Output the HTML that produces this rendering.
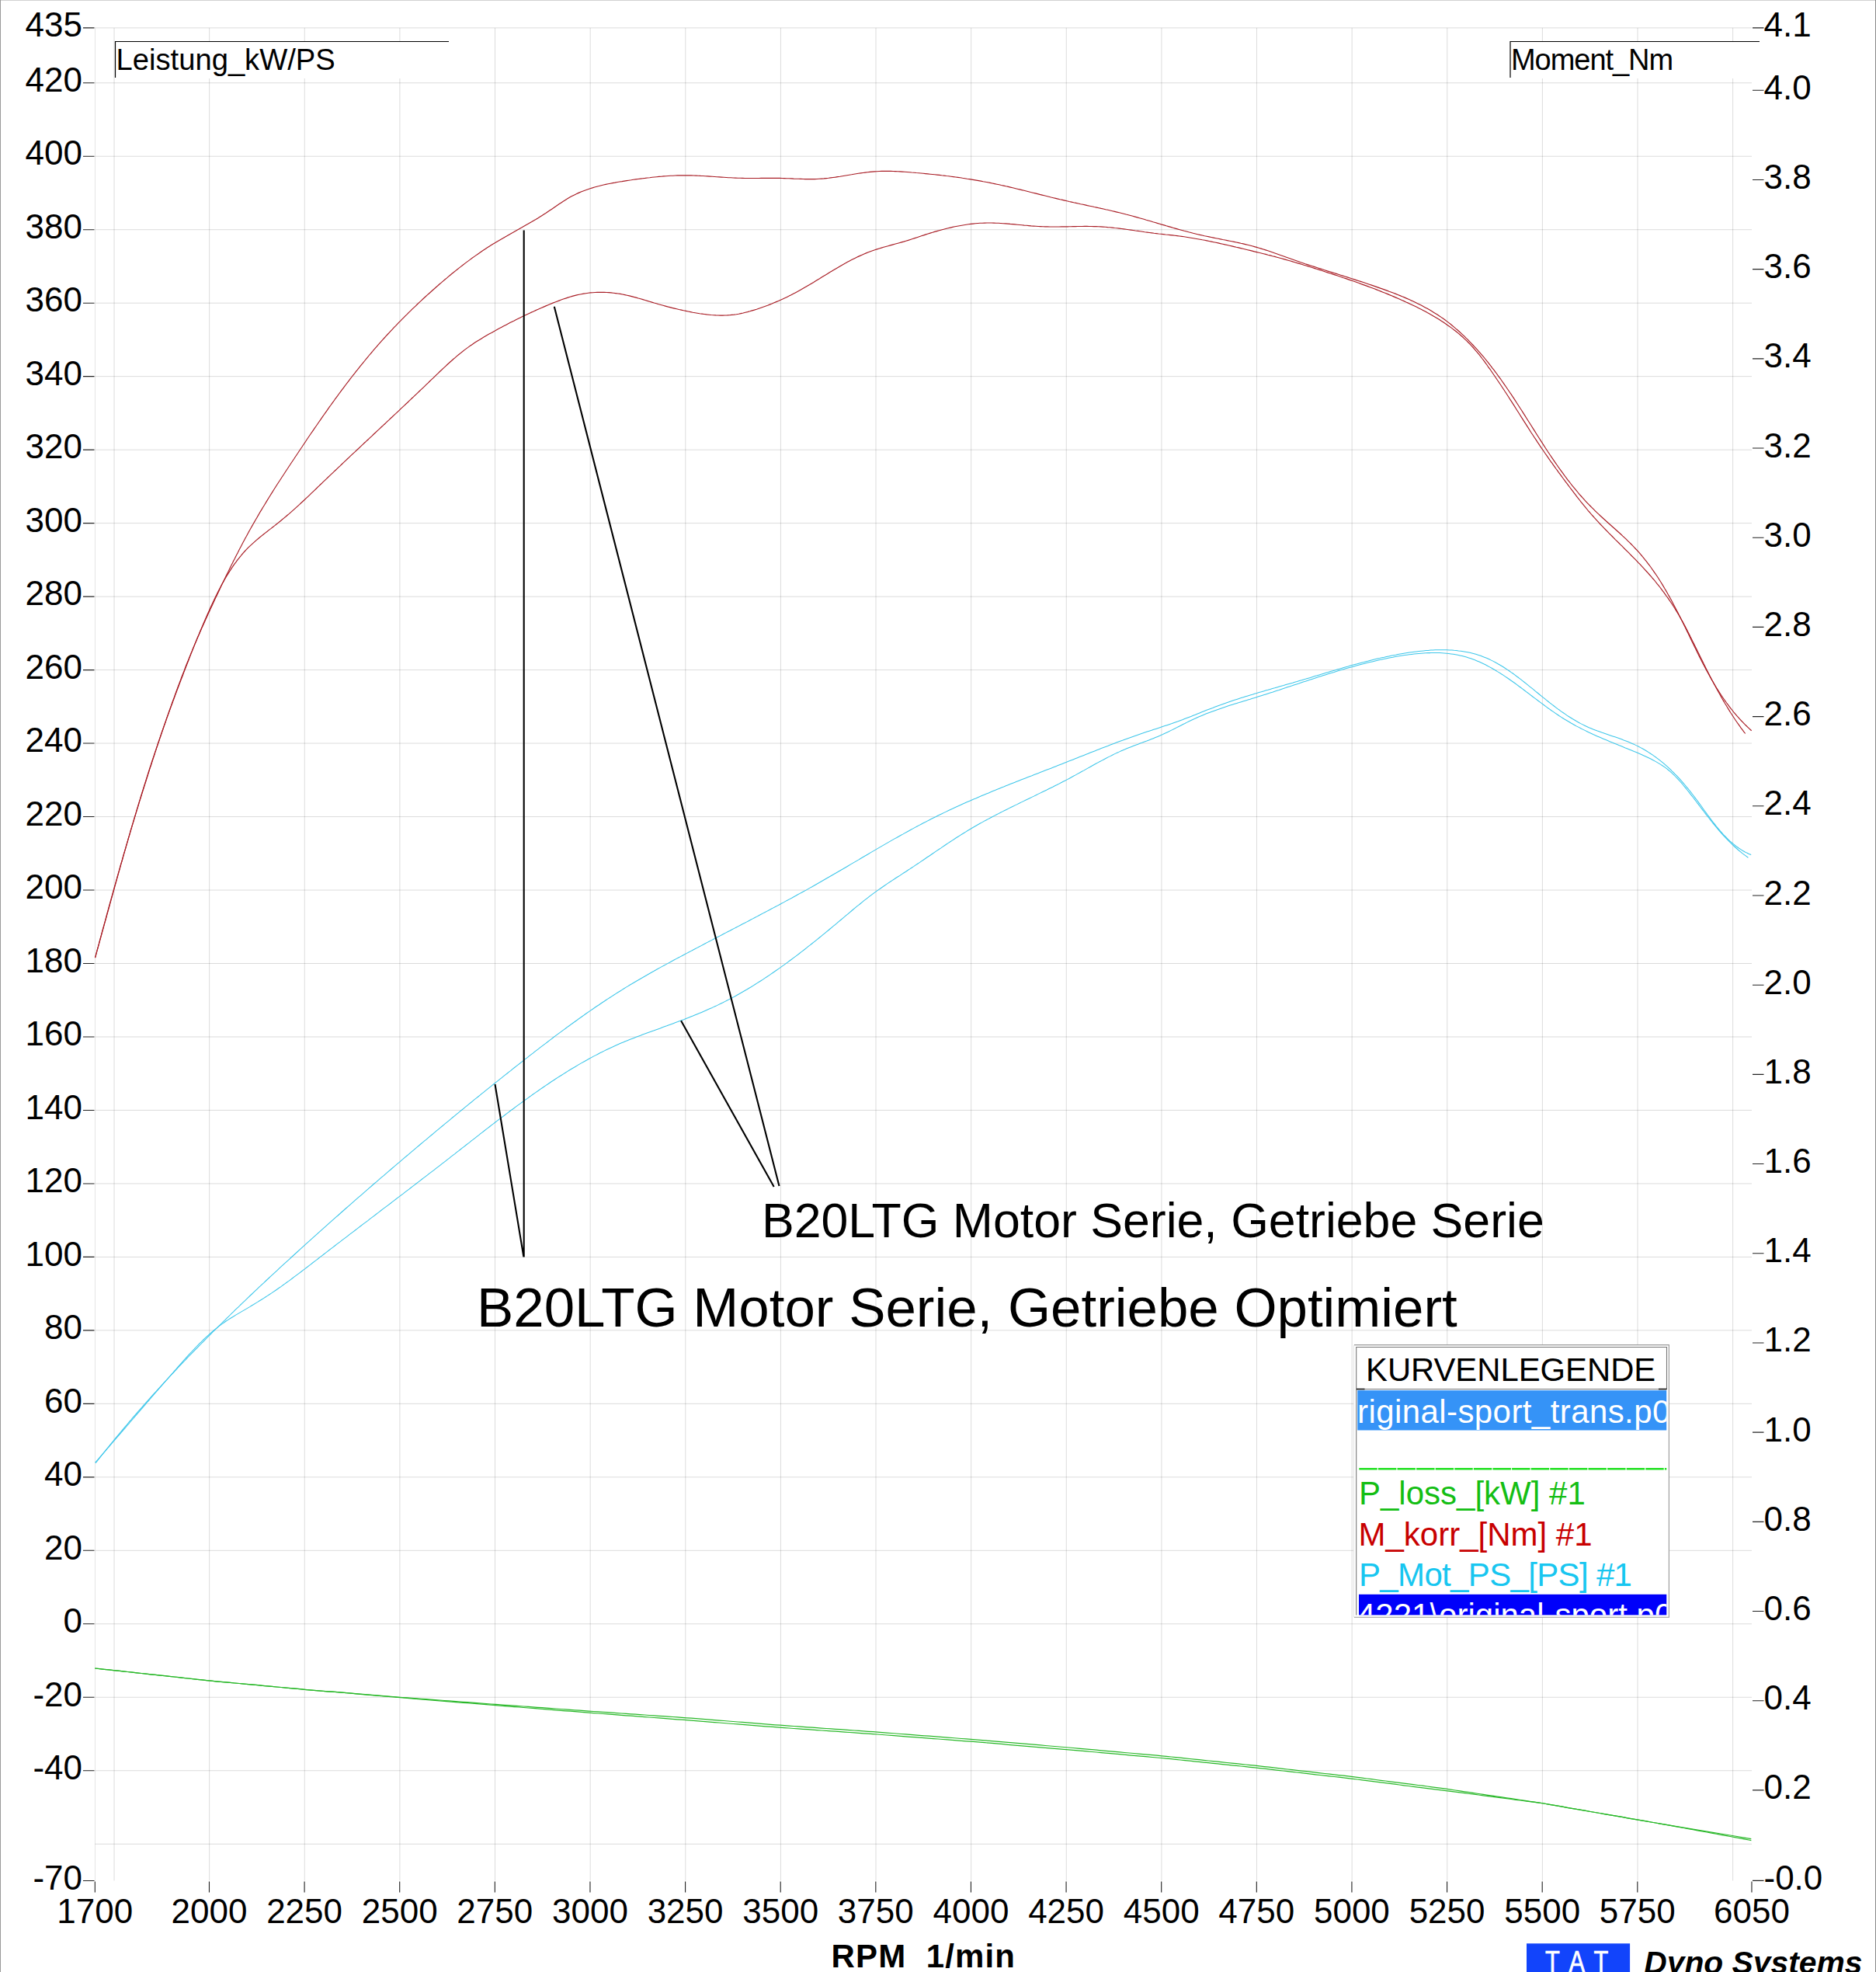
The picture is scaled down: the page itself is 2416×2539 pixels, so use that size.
<!DOCTYPE html>
<html><head><meta charset="utf-8"><title>Dyno</title>
<style>html,body{margin:0;padding:0;background:#fff;width:2416px;height:2539px;overflow:hidden}</style>
</head><body>
<svg xmlns="http://www.w3.org/2000/svg" width="2416" height="2539" viewBox="0 0 2416 2539" style="display:block">
<rect x="0" y="0" width="2416" height="2539" fill="#fff"/>
<line x1="0" y1="0.5" x2="2416" y2="0.5" stroke="#d2d2d2" stroke-width="1"/>
<line x1="0.5" y1="0" x2="0.5" y2="2539" stroke="#999" stroke-width="1"/>
<line x1="2415.5" y1="0" x2="2415.5" y2="2539" stroke="#888" stroke-width="1"/>
<path d="M147.05 35.90V2421.4M269.67 35.90V2421.4M392.30 35.90V2421.4M514.92 35.90V2421.4M637.54 35.90V2421.4M760.16 35.90V2421.4M882.79 35.90V2421.4M1005.41 35.90V2421.4M1128.03 35.90V2421.4M1250.65 35.90V2421.4M1373.27 35.90V2421.4M1495.90 35.90V2421.4M1618.52 35.90V2421.4M1741.14 35.90V2421.4M1863.76 35.90V2421.4M1986.39 35.90V2421.4M2109.01 35.90V2421.4M2231.63 35.90V2421.4M122.3 106.76H2256.0M122.3 201.24H2256.0M122.3 295.72H2256.0M122.3 390.20H2256.0M122.3 484.67H2256.0M122.3 579.15H2256.0M122.3 673.63H2256.0M122.3 768.11H2256.0M122.3 862.59H2256.0M122.3 957.06H2256.0M122.3 1051.54H2256.0M122.3 1146.02H2256.0M122.3 1240.50H2256.0M122.3 1334.98H2256.0M122.3 1429.45H2256.0M122.3 1523.93H2256.0M122.3 1618.41H2256.0M122.3 1712.89H2256.0M122.3 1807.37H2256.0M122.3 1901.84H2256.0M122.3 1996.32H2256.0M122.3 2090.80H2256.0M122.3 2185.28H2256.0M122.3 2279.76H2256.0M122.3 2374.23H2256.0M122.3 35.90H2256.0" stroke="#000" stroke-opacity="0.14" stroke-width="1" fill="none"/>
<path d="M122.5 35.5V2421.4" stroke="#000" stroke-opacity="0.1" stroke-width="1"/>
<path d="M107 35.90H121.5M107 106.76H121.5M107 201.24H121.5M107 295.72H121.5M107 390.20H121.5M107 484.67H121.5M107 579.15H121.5M107 673.63H121.5M107 768.11H121.5M107 862.59H121.5M107 957.06H121.5M107 1051.54H121.5M107 1146.02H121.5M107 1240.50H121.5M107 1334.98H121.5M107 1429.45H121.5M107 1523.93H121.5M107 1618.41H121.5M107 1712.89H121.5M107 1807.37H121.5M107 1901.84H121.5M107 1996.32H121.5M107 2090.80H121.5M107 2185.28H121.5M107 2279.76H121.5M107 2421.47H121.5M2257 35.90H2271.5M2257 116.26H2271.5M2257 231.45H2271.5M2257 346.64H2271.5M2257 461.84H2271.5M2257 577.03H2271.5M2257 692.22H2271.5M2257 807.41H2271.5M2257 922.60H2271.5M2257 1037.80H2271.5M2257 1152.99H2271.5M2257 1268.18H2271.5M2257 1383.37H2271.5M2257 1498.56H2271.5M2257 1613.76H2271.5M2257 1728.95H2271.5M2257 1844.14H2271.5M2257 1959.33H2271.5M2257 2074.52H2271.5M2257 2189.72H2271.5M2257 2304.91H2271.5M2257 2421.40H2271.5M122.33 2422.5V2436.5M269.47 2422.5V2436.5M392.10 2422.5V2436.5M514.72 2422.5V2436.5M637.34 2422.5V2436.5M759.96 2422.5V2436.5M882.59 2422.5V2436.5M1005.21 2422.5V2436.5M1127.83 2422.5V2436.5M1250.45 2422.5V2436.5M1373.07 2422.5V2436.5M1495.70 2422.5V2436.5M1618.32 2422.5V2436.5M1740.94 2422.5V2436.5M1863.56 2422.5V2436.5M1986.19 2422.5V2436.5M2108.81 2422.5V2436.5M2255.96 2422.5V2436.5" stroke="#222" stroke-width="1.1" fill="none"/>
<g font-family="Liberation Sans, sans-serif" font-size="44" fill="#000"><text x="106" y="47.1" text-anchor="end">435</text><text x="106" y="118.0" text-anchor="end">420</text><text x="106" y="212.4" text-anchor="end">400</text><text x="106" y="306.9" text-anchor="end">380</text><text x="106" y="401.4" text-anchor="end">360</text><text x="106" y="495.9" text-anchor="end">340</text><text x="106" y="590.4" text-anchor="end">320</text><text x="106" y="684.8" text-anchor="end">300</text><text x="106" y="779.3" text-anchor="end">280</text><text x="106" y="873.8" text-anchor="end">260</text><text x="106" y="968.3" text-anchor="end">240</text><text x="106" y="1062.7" text-anchor="end">220</text><text x="106" y="1157.2" text-anchor="end">200</text><text x="106" y="1251.7" text-anchor="end">180</text><text x="106" y="1346.2" text-anchor="end">160</text><text x="106" y="1440.7" text-anchor="end">140</text><text x="106" y="1535.1" text-anchor="end">120</text><text x="106" y="1629.6" text-anchor="end">100</text><text x="106" y="1724.1" text-anchor="end">80</text><text x="106" y="1818.6" text-anchor="end">60</text><text x="106" y="1913.0" text-anchor="end">40</text><text x="106" y="2007.5" text-anchor="end">20</text><text x="106" y="2102.0" text-anchor="end">0</text><text x="106" y="2196.5" text-anchor="end">-20</text><text x="106" y="2291.0" text-anchor="end">-40</text><text x="106" y="2432.7" text-anchor="end">-70</text><text x="2271.5" y="47.4">4.1</text><text x="2271.5" y="127.8">4.0</text><text x="2271.5" y="243.0">3.8</text><text x="2271.5" y="358.1">3.6</text><text x="2271.5" y="473.3">3.4</text><text x="2271.5" y="588.5">3.2</text><text x="2271.5" y="703.7">3.0</text><text x="2271.5" y="818.9">2.8</text><text x="2271.5" y="934.1">2.6</text><text x="2271.5" y="1049.3">2.4</text><text x="2271.5" y="1164.5">2.2</text><text x="2271.5" y="1279.7">2.0</text><text x="2271.5" y="1394.9">1.8</text><text x="2271.5" y="1510.1">1.6</text><text x="2271.5" y="1625.3">1.4</text><text x="2271.5" y="1740.4">1.2</text><text x="2271.5" y="1855.6">1.0</text><text x="2271.5" y="1970.8">0.8</text><text x="2271.5" y="2086.0">0.6</text><text x="2271.5" y="2201.2">0.4</text><text x="2271.5" y="2316.4">0.2</text><text x="2271.5" y="2432.9">-0.0</text><text x="122.3" y="2476.3" text-anchor="middle">1700</text><text x="269.5" y="2476.3" text-anchor="middle">2000</text><text x="392.1" y="2476.3" text-anchor="middle">2250</text><text x="514.7" y="2476.3" text-anchor="middle">2500</text><text x="637.3" y="2476.3" text-anchor="middle">2750</text><text x="760.0" y="2476.3" text-anchor="middle">3000</text><text x="882.6" y="2476.3" text-anchor="middle">3250</text><text x="1005.2" y="2476.3" text-anchor="middle">3500</text><text x="1127.8" y="2476.3" text-anchor="middle">3750</text><text x="1250.5" y="2476.3" text-anchor="middle">4000</text><text x="1373.1" y="2476.3" text-anchor="middle">4250</text><text x="1495.7" y="2476.3" text-anchor="middle">4500</text><text x="1618.3" y="2476.3" text-anchor="middle">4750</text><text x="1740.9" y="2476.3" text-anchor="middle">5000</text><text x="1863.6" y="2476.3" text-anchor="middle">5250</text><text x="1986.2" y="2476.3" text-anchor="middle">5500</text><text x="2108.8" y="2476.3" text-anchor="middle">5750</text><text x="2256.0" y="2476.3" text-anchor="middle">6050</text></g>
<rect x="148" y="53" width="430" height="48" fill="#fff"/><rect x="1944.5" y="53" width="321.5" height="48" fill="#fff"/>
<path d="M148.5 100V53.5H578" stroke="#000" stroke-width="1.2" fill="none"/>
<path d="M1945 100V53.5H2266" stroke="#000" stroke-width="1.2" fill="none"/>
<text x="149.5" y="90" font-family="Liberation Sans, sans-serif" font-size="38.2">Leistung_kW/PS</text>
<text x="1946" y="90" font-family="Liberation Sans, sans-serif" font-size="38" letter-spacing="-1.05">Moment_Nm</text>
<text x="1070.6" y="2533" font-family="Liberation Sans, sans-serif" font-weight="bold" font-size="42" letter-spacing="1.1" xml:space="preserve">RPM  1/min</text>
<rect x="1966" y="2502.3" width="133.1" height="40" fill="#1244fb"/>
<text transform="translate(1990.1 2539.4) scale(0.81 1)" font-family="Liberation Sans, sans-serif" font-size="38" fill="#fff" stroke="#fff" stroke-width="0.7" letter-spacing="17.1">TAT</text>
<text x="2117.3" y="2541" font-family="Liberation Sans, sans-serif" font-weight="bold" font-style="italic" font-size="40.8">Dyno Systems</text>
<path d="M122.2 2148.0 L128.2 2148.6 L134.2 2149.3 L140.2 2149.9 L146.2 2150.6 L152.2 2151.2 L158.2 2151.9 L164.2 2152.5 L170.2 2153.2 L176.2 2153.8 L182.2 2154.5 L188.2 2155.1 L194.2 2155.8 L200.2 2156.4 L206.2 2157.1 L212.2 2157.7 L218.2 2158.4 L224.2 2159.0 L230.2 2159.7 L236.2 2160.3 L242.2 2161.0 L248.2 2161.6 L254.2 2162.3 L260.2 2162.9 L266.2 2163.6 L272.2 2164.2 L278.2 2164.8 L284.2 2165.3 L290.2 2165.9 L296.2 2166.4 L302.2 2167.0 L308.2 2167.5 L314.2 2168.1 L320.2 2168.6 L326.2 2169.2 L332.2 2169.7 L338.2 2170.3 L344.2 2170.8 L350.2 2171.4 L356.2 2172.0 L362.2 2172.5 L368.2 2173.1 L374.2 2173.6 L380.2 2174.2 L386.2 2174.7 L392.2 2175.3 L398.2 2175.8 L404.2 2176.3 L410.2 2176.8 L416.2 2177.3 L422.2 2177.8 L428.2 2178.2 L434.2 2178.7 L440.2 2179.2 L446.2 2179.7 L452.2 2180.2 L458.2 2180.7 L464.2 2181.2 L470.2 2181.7 L476.2 2182.1 L482.2 2182.6 L488.2 2183.1 L494.2 2183.6 L500.2 2184.0 L506.2 2184.5 L512.2 2185.0 L518.2 2185.5 L524.2 2185.9 L530.2 2186.4 L536.2 2186.8 L542.2 2187.3 L548.2 2187.7 L554.2 2188.1 L560.2 2188.6 L566.2 2189.0 L572.2 2189.5 L578.2 2189.9 L584.2 2190.4 L590.2 2190.8 L596.2 2191.3 L602.2 2191.7 L608.2 2192.2 L614.2 2192.6 L620.2 2193.1 L626.2 2193.5 L632.2 2194.0 L638.2 2194.4 L644.2 2194.8 L650.2 2195.3 L656.2 2195.7 L662.2 2196.1 L668.2 2196.6 L674.2 2197.0 L680.2 2197.4 L686.2 2197.9 L692.2 2198.3 L698.2 2198.7 L704.2 2199.2 L710.2 2199.6 L716.2 2200.0 L722.2 2200.5 L728.2 2200.9 L734.2 2201.3 L740.2 2201.8 L746.2 2202.2 L752.2 2202.6 L758.2 2203.1 L764.2 2203.5 L770.2 2203.9 L776.2 2204.3 L782.2 2204.7 L788.2 2205.1 L794.2 2205.6 L800.2 2206.0 L806.2 2206.4 L812.2 2206.8 L818.2 2207.2 L824.2 2207.6 L830.2 2208.0 L836.2 2208.5 L842.2 2208.9 L848.2 2209.3 L854.2 2209.7 L860.2 2210.1 L866.2 2210.5 L872.2 2210.9 L878.2 2211.4 L884.2 2211.8 L890.2 2212.2 L896.2 2212.7 L902.2 2213.2 L908.2 2213.6 L914.2 2214.1 L920.2 2214.6 L926.2 2215.1 L932.2 2215.5 L938.2 2216.0 L944.2 2216.5 L950.2 2217.0 L956.2 2217.4 L962.2 2217.9 L968.2 2218.4 L974.2 2218.9 L980.2 2219.3 L986.2 2219.8 L992.2 2220.3 L998.2 2220.8 L1004.2 2221.2 L1010.2 2221.7 L1016.2 2222.1 L1022.2 2222.5 L1028.2 2222.9 L1034.2 2223.4 L1040.2 2223.8 L1046.2 2224.2 L1052.2 2224.6 L1058.2 2225.1 L1064.2 2225.5 L1070.2 2225.9 L1076.2 2226.3 L1082.2 2226.7 L1088.2 2227.2 L1094.2 2227.6 L1100.2 2228.0 L1106.2 2228.4 L1112.2 2228.9 L1118.2 2229.3 L1124.2 2229.7 L1130.2 2230.1 L1136.2 2230.6 L1142.2 2231.1 L1148.2 2231.5 L1154.2 2232.0 L1160.2 2232.5 L1166.2 2232.9 L1172.2 2233.4 L1178.2 2233.8 L1184.2 2234.3 L1190.2 2234.8 L1196.2 2235.2 L1202.2 2235.7 L1208.2 2236.1 L1214.2 2236.6 L1220.2 2237.1 L1226.2 2237.5 L1232.2 2238.0 L1238.2 2238.5 L1244.2 2238.9 L1250.2 2239.4 L1256.2 2239.9 L1262.2 2240.4 L1268.2 2240.9 L1274.2 2241.4 L1280.2 2241.9 L1286.2 2242.4 L1292.2 2242.9 L1298.2 2243.4 L1304.2 2243.9 L1310.2 2244.4 L1316.2 2244.9 L1322.2 2245.4 L1328.2 2245.9 L1334.2 2246.4 L1340.2 2246.9 L1346.2 2247.5 L1352.2 2248.0 L1358.2 2248.5 L1364.2 2249.0 L1370.2 2249.5 L1376.2 2250.0 L1382.2 2250.5 L1388.2 2251.1 L1394.2 2251.6 L1400.2 2252.2 L1406.2 2252.7 L1412.2 2253.2 L1418.2 2253.8 L1424.2 2254.3 L1430.2 2254.9 L1436.2 2255.4 L1442.2 2255.9 L1448.2 2256.5 L1454.2 2257.0 L1460.2 2257.5 L1466.2 2258.1 L1472.2 2258.6 L1478.2 2259.2 L1484.2 2259.7 L1490.2 2260.2 L1496.2 2260.8 L1502.2 2261.4 L1508.2 2262.0 L1514.2 2262.6 L1520.2 2263.2 L1526.2 2263.8 L1532.2 2264.5 L1538.2 2265.1 L1544.2 2265.7 L1550.2 2266.3 L1556.2 2267.0 L1562.2 2267.6 L1568.2 2268.2 L1574.2 2268.8 L1580.2 2269.5 L1586.2 2270.1 L1592.2 2270.7 L1598.2 2271.3 L1604.2 2272.0 L1610.2 2272.6 L1616.2 2273.2 L1622.2 2273.9 L1628.2 2274.6 L1634.2 2275.2 L1640.2 2275.9 L1646.2 2276.6 L1652.2 2277.3 L1658.2 2278.0 L1664.2 2278.7 L1670.2 2279.4 L1676.2 2280.1 L1682.2 2280.7 L1688.2 2281.4 L1694.2 2282.1 L1700.2 2282.8 L1706.2 2283.5 L1712.2 2284.2 L1718.2 2284.9 L1724.2 2285.6 L1730.2 2286.2 L1736.2 2286.9 L1742.2 2287.6 L1748.2 2288.4 L1754.2 2289.2 L1760.2 2290.0 L1766.2 2290.7 L1772.2 2291.5 L1778.2 2292.3 L1784.2 2293.0 L1790.2 2293.8 L1796.2 2294.6 L1802.2 2295.4 L1808.2 2296.1 L1814.2 2296.9 L1820.2 2297.7 L1826.2 2298.5 L1832.2 2299.2 L1838.2 2300.0 L1844.2 2300.8 L1850.2 2301.6 L1856.2 2302.4 L1862.2 2303.2 L1868.2 2304.1 L1874.2 2305.0 L1880.2 2305.9 L1886.2 2306.8 L1892.2 2307.7 L1898.2 2308.6 L1904.2 2309.5 L1910.2 2310.4 L1916.2 2311.3 L1922.2 2312.2 L1928.2 2313.1 L1934.2 2313.9 L1940.2 2314.8 L1946.2 2315.7 L1952.2 2316.6 L1958.2 2317.5 L1964.2 2318.4 L1970.2 2319.3 L1976.2 2320.2 L1982.2 2321.1 L1988.2 2322.0 L1994.2 2323.1 L2000.2 2324.1 L2006.2 2325.2 L2012.2 2326.2 L2018.2 2327.3 L2024.2 2328.3 L2030.2 2329.3 L2036.2 2330.4 L2042.2 2331.4 L2048.2 2332.5 L2054.2 2333.5 L2060.2 2334.5 L2066.2 2335.6 L2072.2 2336.6 L2078.2 2337.7 L2084.2 2338.7 L2090.2 2339.7 L2096.2 2340.8 L2102.2 2341.8 L2108.2 2342.9 L2114.2 2343.9 L2120.2 2344.9 L2126.2 2346.0 L2132.2 2347.0 L2138.2 2348.1 L2144.2 2349.1 L2150.2 2350.2 L2156.2 2351.2 L2162.2 2352.1 L2168.2 2353.1 L2174.2 2354.1 L2180.2 2355.1 L2186.2 2356.1 L2192.2 2357.1 L2198.2 2358.1 L2204.2 2359.1 L2210.2 2360.0 L2216.2 2361.0 L2222.2 2362.0 L2228.2 2363.0 L2234.2 2364.0 L2240.2 2365.0 L2246.2 2366.1 L2252.2 2367.1 L2255.3 2367.6" stroke="#2ab82a" stroke-width="1.2" fill="none"/>
<path d="M122.2 2148.0 L128.2 2148.6 L134.2 2149.3 L140.2 2149.9 L146.2 2150.6 L152.2 2151.2 L158.2 2151.9 L164.2 2152.5 L170.2 2153.2 L176.2 2153.8 L182.2 2154.5 L188.2 2155.1 L194.2 2155.8 L200.2 2156.4 L206.2 2157.1 L212.2 2157.7 L218.2 2158.4 L224.2 2159.0 L230.2 2159.7 L236.2 2160.3 L242.2 2161.0 L248.2 2161.6 L254.2 2162.3 L260.2 2162.9 L266.2 2163.6 L272.2 2164.2 L278.2 2164.8 L284.2 2165.3 L290.2 2165.9 L296.2 2166.4 L302.2 2167.0 L308.2 2167.5 L314.2 2168.1 L320.2 2168.6 L326.2 2169.2 L332.2 2169.7 L338.2 2170.3 L344.2 2170.8 L350.2 2171.4 L356.2 2172.0 L362.2 2172.5 L368.2 2173.1 L374.2 2173.6 L380.2 2174.2 L386.2 2174.7 L392.2 2175.3 L398.2 2175.8 L404.2 2176.3 L410.2 2176.8 L416.2 2177.3 L422.2 2177.8 L428.2 2178.2 L434.2 2178.7 L440.2 2179.2 L446.2 2179.7 L452.2 2180.2 L458.2 2180.8 L464.2 2181.3 L470.2 2181.8 L476.2 2182.3 L482.2 2182.8 L488.2 2183.3 L494.2 2183.9 L500.2 2184.4 L506.2 2184.9 L512.2 2185.4 L518.2 2185.9 L524.2 2186.4 L530.2 2186.9 L536.2 2187.4 L542.2 2187.9 L548.2 2188.4 L554.2 2188.8 L560.2 2189.3 L566.2 2189.8 L572.2 2190.3 L578.2 2190.8 L584.2 2191.3 L590.2 2191.8 L596.2 2192.3 L602.2 2192.7 L608.2 2193.2 L614.2 2193.7 L620.2 2194.2 L626.2 2194.7 L632.2 2195.2 L638.2 2195.7 L644.2 2196.1 L650.2 2196.6 L656.2 2197.1 L662.2 2197.6 L668.2 2198.0 L674.2 2198.5 L680.2 2199.0 L686.2 2199.4 L692.2 2199.9 L698.2 2200.4 L704.2 2200.9 L710.2 2201.3 L716.2 2201.8 L722.2 2202.3 L728.2 2202.8 L734.2 2203.2 L740.2 2203.7 L746.2 2204.2 L752.2 2204.6 L758.2 2205.1 L764.2 2205.6 L770.2 2206.0 L776.2 2206.5 L782.2 2206.9 L788.2 2207.4 L794.2 2207.8 L800.2 2208.3 L806.2 2208.8 L812.2 2209.2 L818.2 2209.7 L824.2 2210.1 L830.2 2210.6 L836.2 2211.0 L842.2 2211.5 L848.2 2211.9 L854.2 2212.4 L860.2 2212.9 L866.2 2213.3 L872.2 2213.8 L878.2 2214.2 L884.2 2214.7 L890.2 2215.2 L896.2 2215.7 L902.2 2216.2 L908.2 2216.6 L914.2 2217.1 L920.2 2217.6 L926.2 2218.0 L932.2 2218.5 L938.2 2219.0 L944.2 2219.5 L950.2 2219.9 L956.2 2220.4 L962.2 2220.9 L968.2 2221.4 L974.2 2221.8 L980.2 2222.3 L986.2 2222.8 L992.2 2223.2 L998.2 2223.7 L1004.2 2224.2 L1010.2 2224.6 L1016.2 2225.0 L1022.2 2225.5 L1028.2 2225.9 L1034.2 2226.3 L1040.2 2226.7 L1046.2 2227.1 L1052.2 2227.6 L1058.2 2228.0 L1064.2 2228.4 L1070.2 2228.8 L1076.2 2229.2 L1082.2 2229.7 L1088.2 2230.1 L1094.2 2230.5 L1100.2 2230.9 L1106.2 2231.3 L1112.2 2231.8 L1118.2 2232.2 L1124.2 2232.6 L1130.2 2233.0 L1136.2 2233.5 L1142.2 2234.0 L1148.2 2234.4 L1154.2 2234.9 L1160.2 2235.3 L1166.2 2235.8 L1172.2 2236.3 L1178.2 2236.7 L1184.2 2237.2 L1190.2 2237.6 L1196.2 2238.1 L1202.2 2238.6 L1208.2 2239.0 L1214.2 2239.5 L1220.2 2239.9 L1226.2 2240.4 L1232.2 2240.9 L1238.2 2241.3 L1244.2 2241.8 L1250.2 2242.2 L1256.2 2242.7 L1262.2 2243.2 L1268.2 2243.7 L1274.2 2244.2 L1280.2 2244.7 L1286.2 2245.2 L1292.2 2245.7 L1298.2 2246.3 L1304.2 2246.8 L1310.2 2247.3 L1316.2 2247.8 L1322.2 2248.3 L1328.2 2248.8 L1334.2 2249.3 L1340.2 2249.8 L1346.2 2250.3 L1352.2 2250.8 L1358.2 2251.3 L1364.2 2251.8 L1370.2 2252.3 L1376.2 2252.8 L1382.2 2253.3 L1388.2 2253.9 L1394.2 2254.4 L1400.2 2254.9 L1406.2 2255.5 L1412.2 2256.0 L1418.2 2256.6 L1424.2 2257.1 L1430.2 2257.6 L1436.2 2258.2 L1442.2 2258.7 L1448.2 2259.2 L1454.2 2259.8 L1460.2 2260.3 L1466.2 2260.8 L1472.2 2261.4 L1478.2 2261.9 L1484.2 2262.5 L1490.2 2263.0 L1496.2 2263.5 L1502.2 2264.1 L1508.2 2264.7 L1514.2 2265.3 L1520.2 2266.0 L1526.2 2266.6 L1532.2 2267.2 L1538.2 2267.8 L1544.2 2268.4 L1550.2 2269.1 L1556.2 2269.7 L1562.2 2270.3 L1568.2 2270.9 L1574.2 2271.6 L1580.2 2272.2 L1586.2 2272.8 L1592.2 2273.4 L1598.2 2274.0 L1604.2 2274.7 L1610.2 2275.3 L1616.2 2275.9 L1622.2 2276.6 L1628.2 2277.2 L1634.2 2277.9 L1640.2 2278.6 L1646.2 2279.3 L1652.2 2280.0 L1658.2 2280.7 L1664.2 2281.4 L1670.2 2282.0 L1676.2 2282.7 L1682.2 2283.4 L1688.2 2284.1 L1694.2 2284.8 L1700.2 2285.5 L1706.2 2286.1 L1712.2 2286.8 L1718.2 2287.5 L1724.2 2288.2 L1730.2 2288.9 L1736.2 2289.6 L1742.2 2290.3 L1748.2 2291.0 L1754.2 2291.8 L1760.2 2292.6 L1766.2 2293.4 L1772.2 2294.1 L1778.2 2294.9 L1784.2 2295.7 L1790.2 2296.4 L1796.2 2297.2 L1802.2 2298.0 L1808.2 2298.8 L1814.2 2299.5 L1820.2 2300.3 L1826.2 2301.1 L1832.2 2301.8 L1838.2 2302.6 L1844.2 2303.4 L1850.2 2304.1 L1856.2 2304.9 L1862.2 2305.6 L1868.2 2306.3 L1874.2 2307.1 L1880.2 2307.9 L1886.2 2308.7 L1892.2 2309.5 L1898.2 2310.2 L1904.2 2311.0 L1910.2 2311.8 L1916.2 2312.6 L1922.2 2313.4 L1928.2 2314.1 L1934.2 2314.9 L1940.2 2315.7 L1946.2 2316.5 L1952.2 2317.3 L1958.2 2318.0 L1964.2 2318.8 L1970.2 2319.6 L1976.2 2320.4 L1982.2 2321.2 L1988.2 2322.0 L1994.2 2323.1 L2000.2 2324.1 L2006.2 2325.2 L2012.2 2326.2 L2018.2 2327.3 L2024.2 2328.3 L2030.2 2329.3 L2036.2 2330.4 L2042.2 2331.4 L2048.2 2332.5 L2054.2 2333.5 L2060.2 2334.5 L2066.2 2335.6 L2072.2 2336.6 L2078.2 2337.7 L2084.2 2338.7 L2090.2 2339.7 L2096.2 2340.8 L2102.2 2341.8 L2108.2 2342.9 L2114.2 2343.9 L2120.2 2344.9 L2126.2 2346.0 L2132.2 2347.0 L2138.2 2348.1 L2144.2 2349.1 L2150.2 2350.2 L2156.2 2351.3 L2162.2 2352.4 L2168.2 2353.5 L2174.2 2354.6 L2180.2 2355.7 L2186.2 2356.8 L2192.2 2357.9 L2198.2 2359.0 L2204.2 2360.1 L2210.2 2361.2 L2216.2 2362.3 L2222.2 2363.4 L2228.2 2364.5 L2234.2 2365.6 L2240.2 2366.7 L2246.2 2367.9 L2252.2 2369.0 L2255.3 2369.6" stroke="#2ab82a" stroke-width="1.2" fill="none"/>
<path d="M123.1 1883.7 L125.0 1881.3 L126.9 1879.0 L128.7 1876.6 L130.6 1874.2 L132.4 1871.9 L134.3 1869.5 L136.2 1867.2 L138.1 1864.9 L140.0 1862.5 L141.9 1860.2 L143.8 1857.9 L145.7 1855.5 L147.6 1853.2 L149.5 1850.9 L151.4 1848.6 L153.3 1846.3 L155.2 1844.0 L157.2 1841.7 L159.1 1839.4 L161.0 1837.1 L163.0 1834.8 L164.9 1832.5 L166.8 1830.2 L168.8 1828.0 L170.7 1825.7 L172.7 1823.4 L174.7 1821.1 L176.6 1818.9 L178.6 1816.6 L180.6 1814.4 L182.6 1812.1 L184.5 1809.9 L186.5 1807.6 L188.5 1805.4 L190.5 1803.1 L192.5 1800.9 L194.5 1798.7 L196.5 1796.4 L198.5 1794.2 L200.5 1792.0 L202.5 1789.8 L204.5 1787.6 L206.6 1785.3 L208.6 1783.1 L210.6 1780.9 L212.7 1778.7 L214.7 1776.5 L216.7 1774.3 L218.8 1772.1 L220.8 1769.9 L222.9 1767.8 L224.9 1765.6 L227.0 1763.4 L229.0 1761.2 L231.1 1759.0 L233.1 1756.9 L235.2 1754.7 L237.3 1752.5 L239.4 1750.4 L241.4 1748.2 L243.5 1746.0 L245.6 1743.9 L247.7 1741.7 L249.8 1739.6 L251.9 1737.4 L254.0 1735.3 L256.1 1733.2 L258.2 1731.0 L260.3 1728.9 L262.4 1726.8 L264.5 1724.6 L266.6 1722.5 L268.7 1720.4 L270.8 1718.3 L272.9 1716.1 L275.0 1714.0 L277.2 1711.9 L279.3 1709.8 L281.4 1707.7 L283.6 1705.6 L285.7 1703.5 L287.8 1701.4 L290.0 1699.3 L292.1 1697.2 L294.3 1695.1 L296.4 1693.0 L298.5 1690.9 L300.7 1688.8 L302.8 1686.7 L305.0 1684.6 L307.2 1682.6 L309.3 1680.5 L311.5 1678.4 L313.6 1676.3 L315.8 1674.3 L318.0 1672.2 L320.1 1670.1 L322.3 1668.0 L324.5 1666.0 L326.7 1663.9 L328.8 1661.9 L331.0 1659.8 L333.2 1657.7 L335.4 1655.7 L337.6 1653.6 L339.8 1651.6 L342.0 1649.5 L344.1 1647.5 L346.3 1645.5 L348.5 1643.4 L350.7 1641.4 L352.9 1639.3 L355.1 1637.3 L357.3 1635.3 L359.5 1633.2 L361.7 1631.2 L363.9 1629.2 L366.1 1627.1 L368.3 1625.1 L370.6 1623.1 L372.8 1621.1 L375.0 1619.0 L377.2 1617.0 L379.4 1615.0 L381.6 1613.0 L383.8 1611.0 L386.1 1608.9 L388.3 1606.9 L390.5 1604.9 L392.7 1602.9 L394.9 1600.9 L397.2 1598.9 L399.4 1596.9 L401.6 1594.9 L403.8 1592.9 L406.1 1590.9 L408.3 1588.9 L410.5 1586.9 L412.8 1584.9 L415.0 1582.9 L417.2 1580.9 L419.5 1578.9 L421.7 1576.9 L423.9 1574.9 L426.2 1572.9 L428.4 1570.9 L430.7 1568.9 L432.9 1566.9 L435.2 1565.0 L437.4 1563.0 L439.6 1561.0 L441.9 1559.0 L444.1 1557.0 L446.4 1555.0 L448.6 1553.1 L450.9 1551.1 L453.1 1549.1 L455.4 1547.1 L457.6 1545.2 L459.9 1543.2 L462.2 1541.2 L464.4 1539.3 L466.7 1537.3 L468.9 1535.3 L471.2 1533.4 L473.5 1531.4 L475.7 1529.4 L478.0 1527.5 L480.2 1525.5 L482.5 1523.5 L484.8 1521.6 L487.1 1519.6 L489.3 1517.7 L491.6 1515.7 L493.9 1513.8 L496.1 1511.8 L498.4 1509.9 L500.7 1507.9 L503.0 1506.0 L505.2 1504.0 L507.5 1502.1 L509.8 1500.1 L512.1 1498.2 L514.4 1496.3 L516.6 1494.3 L518.9 1492.4 L521.2 1490.4 L523.5 1488.5 L525.8 1486.6 L528.1 1484.6 L530.4 1482.7 L532.6 1480.8 L534.9 1478.8 L537.2 1476.9 L539.5 1475.0 L541.8 1473.0 L544.1 1471.1 L546.4 1469.2 L548.7 1467.3 L551.0 1465.3 L553.3 1463.4 L555.6 1461.5 L557.9 1459.6 L560.2 1457.7 L562.5 1455.7 L564.8 1453.8 L567.1 1451.9 L569.4 1450.0 L571.7 1448.1 L574.0 1446.2 L576.3 1444.3 L578.7 1442.3 L581.0 1440.4 L583.3 1438.5 L585.6 1436.6 L587.9 1434.7 L590.2 1432.8 L592.5 1430.9 L594.9 1429.0 L597.2 1427.1 L599.5 1425.2 L601.8 1423.3 L604.1 1421.4 L606.5 1419.5 L608.8 1417.6 L611.1 1415.7 L613.4 1413.9 L615.8 1412.0 L618.1 1410.1 L620.4 1408.2 L622.8 1406.3 L625.1 1404.4 L627.4 1402.6 L629.8 1400.7 L632.1 1398.8 L634.4 1396.9 L636.8 1395.0 L639.1 1393.2 L641.5 1391.3 L643.8 1389.4 L646.2 1387.6 L648.5 1385.7 L650.8 1383.8 L653.2 1382.0 L655.5 1380.1 L657.9 1378.3 L660.2 1376.4 L662.6 1374.5 L665.0 1372.7 L667.3 1370.8 L669.7 1369.0 L672.0 1367.1 L674.4 1365.3 L676.7 1363.4 L679.1 1361.6 L681.5 1359.7 L683.8 1357.9 L686.2 1356.1 L688.6 1354.2 L690.9 1352.4 L693.3 1350.6 L695.7 1348.7 L698.1 1346.9 L700.4 1345.1 L702.8 1343.3 L705.2 1341.5 L707.6 1339.6 L710.0 1337.8 L712.3 1336.0 L714.7 1334.2 L717.1 1332.4 L719.5 1330.6 L721.9 1328.9 L724.3 1327.1 L726.7 1325.3 L729.2 1323.5 L731.6 1321.7 L734.0 1320.0 L736.4 1318.2 L738.8 1316.5 L741.3 1314.7 L743.7 1313.0 L746.1 1311.2 L748.6 1309.5 L751.0 1307.8 L753.4 1306.0 L755.9 1304.3 L758.3 1302.6 L760.8 1300.9 L763.3 1299.2 L765.7 1297.5 L768.2 1295.8 L770.7 1294.2 L773.2 1292.5 L775.7 1290.8 L778.1 1289.2 L780.6 1287.5 L783.1 1285.9 L785.7 1284.2 L788.2 1282.6 L790.7 1281.0 L793.2 1279.4 L795.7 1277.8 L798.3 1276.2 L800.8 1274.6 L803.3 1273.0 L805.9 1271.4 L808.5 1269.9 L811.0 1268.3 L813.6 1266.8 L816.2 1265.2 L818.7 1263.7 L821.3 1262.2 L823.9 1260.7 L826.5 1259.2 L829.1 1257.7 L831.7 1256.2 L834.3 1254.7 L836.9 1253.2 L839.5 1251.7 L842.2 1250.3 L844.8 1248.8 L847.4 1247.3 L850.0 1245.9 L852.7 1244.4 L855.3 1243.0 L857.9 1241.6 L860.6 1240.1 L863.2 1238.7 L865.8 1237.3 L868.5 1235.8 L871.1 1234.4 L873.8 1233.0 L876.4 1231.6 L879.1 1230.2 L881.7 1228.8 L884.4 1227.4 L887.0 1226.0 L889.7 1224.6 L892.3 1223.2 L895.0 1221.8 L897.7 1220.4 L900.3 1219.0 L903.0 1217.6 L905.6 1216.2 L908.3 1214.8 L910.9 1213.4 L913.6 1212.0 L916.3 1210.6 L918.9 1209.2 L921.6 1207.8 L924.2 1206.5 L926.9 1205.1 L929.5 1203.7 L932.2 1202.3 L934.9 1200.9 L937.5 1199.5 L940.2 1198.2 L942.8 1196.8 L945.5 1195.4 L948.2 1194.0 L950.8 1192.6 L953.5 1191.2 L956.1 1189.8 L958.8 1188.5 L961.4 1187.1 L964.1 1185.7 L966.7 1184.3 L969.4 1182.9 L972.0 1181.5 L974.7 1180.1 L977.3 1178.7 L980.0 1177.3 L982.6 1175.9 L985.3 1174.5 L987.9 1173.1 L990.6 1171.7 L993.2 1170.3 L995.9 1168.9 L998.5 1167.5 L1001.2 1166.1 L1003.8 1164.7 L1006.4 1163.3 L1009.1 1161.9 L1011.7 1160.4 L1014.3 1159.0 L1017.0 1157.6 L1019.6 1156.2 L1022.2 1154.7 L1024.9 1153.3 L1027.5 1151.8 L1030.1 1150.4 L1032.7 1149.0 L1035.4 1147.5 L1038.0 1146.1 L1040.6 1144.6 L1043.2 1143.1 L1045.8 1141.7 L1048.4 1140.2 L1051.0 1138.7 L1053.6 1137.2 L1056.2 1135.8 L1058.8 1134.3 L1061.4 1132.8 L1064.0 1131.3 L1066.6 1129.8 L1069.2 1128.3 L1071.8 1126.8 L1074.4 1125.3 L1077.0 1123.8 L1079.6 1122.2 L1082.2 1120.7 L1084.8 1119.2 L1087.4 1117.7 L1090.0 1116.2 L1092.5 1114.7 L1095.1 1113.1 L1097.7 1111.6 L1100.3 1110.1 L1102.9 1108.6 L1105.5 1107.1 L1108.1 1105.5 L1110.6 1104.0 L1113.2 1102.5 L1115.8 1101.0 L1118.4 1099.5 L1121.0 1097.9 L1123.6 1096.4 L1126.2 1094.9 L1128.8 1093.4 L1131.3 1091.9 L1133.9 1090.4 L1136.5 1088.9 L1139.1 1087.4 L1141.7 1085.9 L1144.3 1084.4 L1146.9 1082.9 L1149.5 1081.4 L1152.1 1079.9 L1154.8 1078.5 L1157.4 1077.0 L1160.0 1075.5 L1162.6 1074.1 L1165.2 1072.6 L1167.8 1071.2 L1170.5 1069.7 L1173.1 1068.3 L1175.7 1066.9 L1178.4 1065.4 L1181.0 1064.0 L1183.6 1062.6 L1186.3 1061.2 L1188.9 1059.8 L1191.6 1058.5 L1194.2 1057.1 L1196.9 1055.7 L1199.6 1054.3 L1202.2 1053.0 L1204.9 1051.7 L1207.6 1050.3 L1210.3 1049.0 L1213.0 1047.7 L1215.7 1046.4 L1218.4 1045.1 L1221.1 1043.8 L1223.8 1042.5 L1226.5 1041.3 L1229.2 1040.0 L1231.9 1038.8 L1234.7 1037.5 L1237.4 1036.3 L1240.1 1035.1 L1242.9 1033.8 L1245.6 1032.6 L1248.3 1031.4 L1251.1 1030.2 L1253.8 1029.0 L1256.6 1027.9 L1259.3 1026.7 L1262.1 1025.5 L1264.9 1024.3 L1267.6 1023.2 L1270.4 1022.0 L1273.2 1020.9 L1275.9 1019.7 L1278.7 1018.6 L1281.5 1017.5 L1284.3 1016.3 L1287.0 1015.2 L1289.8 1014.1 L1292.6 1013.0 L1295.4 1011.8 L1298.2 1010.7 L1301.0 1009.6 L1303.7 1008.5 L1306.5 1007.4 L1309.3 1006.3 L1312.1 1005.2 L1314.9 1004.1 L1317.7 1003.0 L1320.5 1001.9 L1323.3 1000.8 L1326.1 999.7 L1328.9 998.7 L1331.7 997.6 L1334.5 996.5 L1337.3 995.4 L1340.1 994.3 L1342.9 993.2 L1345.7 992.1 L1348.5 991.0 L1351.3 990.0 L1354.1 988.9 L1356.9 987.8 L1359.7 986.7 L1362.5 985.6 L1365.2 984.5 L1368.0 983.4 L1370.8 982.3 L1373.6 981.2 L1376.4 980.1 L1379.2 979.0 L1382.0 977.9 L1384.8 976.8 L1387.5 975.7 L1390.3 974.6 L1393.1 973.5 L1395.9 972.4 L1398.7 971.3 L1401.5 970.2 L1404.2 969.1 L1407.0 968.0 L1409.8 966.9 L1412.6 965.8 L1415.4 964.7 L1418.2 963.6 L1421.0 962.5 L1423.8 961.4 L1426.6 960.4 L1429.3 959.3 L1432.1 958.2 L1434.9 957.2 L1437.7 956.1 L1440.5 955.0 L1443.4 954.0 L1446.2 953.0 L1449.0 951.9 L1451.8 950.9 L1454.6 949.9 L1457.4 948.9 L1460.2 947.9 L1463.1 946.9 L1465.9 945.9 L1468.7 945.0 L1471.6 944.0 L1474.4 943.1 L1477.3 942.1 L1480.1 941.2 L1483.0 940.3 L1485.8 939.3 L1488.7 938.4 L1491.5 937.5 L1494.4 936.5 L1497.2 935.6 L1500.1 934.6 L1502.9 933.7 L1505.8 932.7 L1508.6 931.8 L1511.4 930.8 L1514.3 929.8 L1517.1 928.8 L1519.9 927.7 L1522.7 926.7 L1525.5 925.6 L1528.3 924.5 L1531.1 923.4 L1533.8 922.4 L1536.6 921.3 L1539.4 920.2 L1542.2 919.0 L1545.0 917.9 L1547.7 916.8 L1550.5 915.7 L1553.3 914.6 L1556.1 913.5 L1558.9 912.4 L1561.7 911.4 L1564.5 910.3 L1567.3 909.2 L1570.1 908.2 L1572.9 907.2 L1575.7 906.2 L1578.5 905.2 L1581.3 904.2 L1584.2 903.2 L1587.0 902.3 L1589.9 901.3 L1592.7 900.4 L1595.6 899.5 L1598.4 898.6 L1601.3 897.7 L1604.1 896.8 L1607.0 895.9 L1609.9 895.0 L1612.8 894.2 L1615.6 893.3 L1618.5 892.5 L1621.4 891.6 L1624.3 890.8 L1627.2 889.9 L1630.0 889.1 L1632.9 888.3 L1635.8 887.4 L1638.7 886.6 L1641.6 885.8 L1644.5 884.9 L1647.4 884.1 L1650.2 883.3 L1653.1 882.5 L1656.0 881.6 L1658.9 880.8 L1661.8 880.0 L1664.7 879.2 L1667.5 878.3 L1670.4 877.5 L1673.3 876.6 L1676.2 875.8 L1679.0 874.9 L1681.9 874.1 L1684.8 873.2 L1687.6 872.4 L1690.5 871.5 L1693.3 870.6 L1696.2 869.8 L1699.1 868.9 L1701.9 868.1 L1704.8 867.2 L1707.6 866.3 L1710.5 865.5 L1713.4 864.6 L1716.2 863.8 L1719.1 862.9 L1721.9 862.1 L1724.8 861.3 L1727.7 860.4 L1730.5 859.6 L1733.4 858.8 L1736.3 858.0 L1739.1 857.1 L1742.0 856.3 L1744.9 855.5 L1747.8 854.8 L1750.7 854.0 L1753.5 853.2 L1756.4 852.5 L1759.3 851.7 L1762.2 851.0 L1765.1 850.2 L1768.0 849.5 L1770.9 848.8 L1773.9 848.1 L1776.8 847.5 L1779.7 846.8 L1782.6 846.2 L1785.6 845.5 L1788.5 844.9 L1791.5 844.3 L1794.4 843.7 L1797.4 843.2 L1800.3 842.6 L1803.3 842.1 L1806.3 841.6 L1809.3 841.1 L1812.3 840.6 L1815.3 840.1 L1818.3 839.7 L1821.3 839.3 L1824.3 838.9 L1827.3 838.5 L1830.4 838.2 L1833.4 837.9 L1836.4 837.6 L1839.4 837.4 L1842.5 837.1 L1845.5 837.0 L1848.5 836.8 L1851.5 836.7 L1854.5 836.7 L1857.5 836.7 L1860.6 836.7 L1863.5 836.8 L1866.5 836.9 L1869.5 837.0 L1872.5 837.3 L1875.4 837.5 L1878.4 837.9 L1881.3 838.2 L1884.2 838.7 L1887.1 839.2 L1890.0 839.7 L1892.9 840.3 L1895.7 841.0 L1898.6 841.7 L1901.4 842.5 L1904.2 843.4 L1906.9 844.3 L1909.7 845.4 L1912.4 846.4 L1915.1 847.6 L1917.8 848.8 L1920.5 850.1 L1923.1 851.4 L1925.7 852.8 L1928.3 854.2 L1930.9 855.7 L1933.5 857.3 L1936.0 858.8 L1938.6 860.5 L1941.1 862.1 L1943.6 863.8 L1946.1 865.6 L1948.6 867.3 L1951.1 869.1 L1953.5 871.0 L1956.0 872.8 L1958.4 874.7 L1960.9 876.6 L1963.3 878.5 L1965.7 880.4 L1968.1 882.3 L1970.5 884.3 L1972.9 886.2 L1975.3 888.1 L1977.6 890.1 L1980.0 892.0 L1982.4 894.0 L1984.7 895.9 L1987.1 897.8 L1989.5 899.7 L1991.8 901.6 L1994.2 903.5 L1996.5 905.3 L1998.9 907.2 L2001.3 909.0 L2003.7 910.8 L2006.0 912.6 L2008.4 914.3 L2010.8 916.1 L2013.3 917.8 L2015.7 919.4 L2018.1 921.1 L2020.6 922.7 L2023.1 924.3 L2025.5 925.8 L2028.1 927.3 L2030.6 928.8 L2033.1 930.2 L2035.7 931.6 L2038.3 932.9 L2040.9 934.2 L2043.6 935.5 L2046.2 936.7 L2048.9 937.8 L2051.7 939.0 L2054.4 940.0 L2057.2 941.1 L2060.0 942.1 L2062.8 943.1 L2065.6 944.0 L2068.5 945.0 L2071.3 945.9 L2074.1 946.9 L2077.0 947.9 L2079.8 948.8 L2082.7 949.8 L2085.5 950.8 L2088.3 951.8 L2091.1 952.9 L2093.9 953.9 L2096.7 955.0 L2099.5 956.2 L2102.2 957.4 L2104.9 958.6 L2107.6 959.9 L2110.3 961.2 L2112.9 962.6 L2115.5 964.0 L2118.1 965.5 L2120.6 967.0 L2123.1 968.6 L2125.6 970.2 L2128.1 971.9 L2130.5 973.6 L2132.9 975.3 L2135.3 977.1 L2137.6 978.9 L2140.0 980.8 L2142.3 982.7 L2144.5 984.7 L2146.8 986.7 L2149.0 988.7 L2151.2 990.7 L2153.3 992.8 L2155.5 994.9 L2157.6 997.1 L2159.7 999.2 L2161.8 1001.4 L2163.8 1003.7 L2165.8 1005.9 L2167.8 1008.2 L2169.8 1010.5 L2171.7 1012.8 L2173.7 1015.1 L2175.6 1017.5 L2177.5 1019.9 L2179.3 1022.2 L2181.2 1024.7 L2183.0 1027.1 L2184.8 1029.5 L2186.6 1031.9 L2188.4 1034.4 L2190.2 1036.8 L2192.0 1039.3 L2193.7 1041.7 L2195.5 1044.2 L2197.3 1046.6 L2199.0 1049.0 L2200.8 1051.4 L2202.6 1053.8 L2204.4 1056.2 L2206.2 1058.6 L2208.1 1060.9 L2209.9 1063.3 L2211.8 1065.6 L2213.7 1067.8 L2215.6 1070.1 L2217.6 1072.3 L2219.5 1074.5 L2221.6 1076.6 L2223.6 1078.7 L2225.7 1080.8 L2227.8 1082.8 L2230.0 1084.7 L2232.3 1086.6 L2234.5 1088.5 L2236.9 1090.3 L2239.3 1092.0 L2241.8 1093.6 L2244.3 1095.2 L2246.9 1096.7 L2249.6 1098.1 L2252.4 1099.4 L2255.2 1100.6" stroke="#3cc6ea" stroke-width="1.05" fill="none" stroke-linejoin="round"/>
<path d="M122.6 1883.2 L124.6 1880.9 L126.6 1878.7 L128.5 1876.4 L130.5 1874.1 L132.5 1871.9 L134.4 1869.6 L136.4 1867.3 L138.3 1865.0 L140.3 1862.8 L142.3 1860.5 L144.2 1858.2 L146.2 1856.0 L148.1 1853.7 L150.1 1851.4 L152.0 1849.2 L154.0 1846.9 L155.9 1844.6 L157.9 1842.3 L159.8 1840.1 L161.8 1837.8 L163.7 1835.5 L165.7 1833.3 L167.6 1831.0 L169.6 1828.7 L171.6 1826.5 L173.5 1824.2 L175.5 1821.9 L177.4 1819.6 L179.4 1817.4 L181.3 1815.1 L183.3 1812.8 L185.2 1810.6 L187.2 1808.3 L189.1 1806.0 L191.1 1803.8 L193.1 1801.5 L195.0 1799.2 L197.0 1797.0 L198.9 1794.7 L200.9 1792.4 L202.9 1790.2 L204.8 1787.9 L206.8 1785.6 L208.8 1783.4 L210.7 1781.1 L212.7 1778.8 L214.7 1776.6 L216.7 1774.3 L218.6 1772.0 L220.6 1769.8 L222.6 1767.5 L224.6 1765.2 L226.6 1763.0 L228.6 1760.7 L230.6 1758.4 L232.6 1756.2 L234.6 1753.9 L236.6 1751.7 L238.6 1749.4 L240.6 1747.2 L242.6 1744.9 L244.7 1742.7 L246.7 1740.5 L248.8 1738.3 L250.9 1736.1 L252.9 1734.0 L255.0 1731.8 L257.1 1729.7 L259.3 1727.6 L261.4 1725.5 L263.6 1723.4 L265.8 1721.4 L268.0 1719.4 L270.2 1717.4 L272.4 1715.4 L274.7 1713.5 L276.9 1711.6 L279.2 1709.8 L281.6 1707.9 L283.9 1706.2 L286.3 1704.4 L288.7 1702.7 L291.1 1701.0 L293.6 1699.4 L296.1 1697.8 L298.6 1696.2 L301.1 1694.7 L303.6 1693.1 L306.2 1691.6 L308.8 1690.1 L311.3 1688.6 L313.9 1687.1 L316.5 1685.6 L319.0 1684.1 L321.6 1682.6 L324.1 1681.0 L326.7 1679.5 L329.3 1677.9 L331.8 1676.4 L334.3 1674.8 L336.9 1673.2 L339.4 1671.6 L341.9 1670.0 L344.4 1668.4 L346.9 1666.7 L349.4 1665.1 L351.9 1663.4 L354.4 1661.7 L356.9 1660.0 L359.3 1658.3 L361.8 1656.6 L364.2 1654.8 L366.6 1653.1 L369.1 1651.3 L371.5 1649.6 L373.9 1647.8 L376.3 1646.0 L378.7 1644.2 L381.1 1642.4 L383.5 1640.6 L385.9 1638.8 L388.3 1637.0 L390.7 1635.2 L393.1 1633.4 L395.5 1631.5 L397.9 1629.7 L400.3 1627.9 L402.6 1626.0 L405.0 1624.2 L407.4 1622.4 L409.8 1620.5 L412.1 1618.7 L414.5 1616.8 L416.9 1615.0 L419.3 1613.2 L421.6 1611.3 L424.0 1609.5 L426.4 1607.7 L428.8 1605.9 L431.2 1604.0 L433.5 1602.2 L435.9 1600.4 L438.3 1598.6 L440.7 1596.7 L443.1 1594.9 L445.5 1593.1 L447.8 1591.3 L450.2 1589.4 L452.6 1587.6 L455.0 1585.8 L457.4 1584.0 L459.8 1582.2 L462.1 1580.3 L464.5 1578.5 L466.9 1576.7 L469.3 1574.9 L471.7 1573.1 L474.1 1571.3 L476.4 1569.4 L478.8 1567.6 L481.2 1565.8 L483.6 1564.0 L486.0 1562.2 L488.4 1560.4 L490.7 1558.5 L493.1 1556.7 L495.5 1554.9 L497.9 1553.1 L500.3 1551.3 L502.7 1549.5 L505.0 1547.7 L507.4 1545.8 L509.8 1544.0 L512.2 1542.2 L514.6 1540.4 L516.9 1538.6 L519.3 1536.8 L521.7 1534.9 L524.1 1533.1 L526.5 1531.3 L528.8 1529.5 L531.2 1527.7 L533.6 1525.8 L536.0 1524.0 L538.4 1522.2 L540.7 1520.4 L543.1 1518.5 L545.5 1516.7 L547.9 1514.9 L550.2 1513.1 L552.6 1511.2 L555.0 1509.4 L557.4 1507.6 L559.7 1505.8 L562.1 1503.9 L564.5 1502.1 L566.8 1500.3 L569.2 1498.4 L571.6 1496.6 L573.9 1494.8 L576.3 1492.9 L578.7 1491.1 L581.0 1489.2 L583.4 1487.4 L585.8 1485.6 L588.1 1483.7 L590.5 1481.9 L592.9 1480.0 L595.2 1478.2 L597.6 1476.3 L599.9 1474.5 L602.3 1472.6 L604.7 1470.8 L607.0 1468.9 L609.4 1467.1 L611.7 1465.3 L614.1 1463.4 L616.5 1461.6 L618.8 1459.7 L621.2 1457.9 L623.6 1456.0 L625.9 1454.2 L628.3 1452.4 L630.7 1450.5 L633.0 1448.7 L635.4 1446.9 L637.8 1445.0 L640.2 1443.2 L642.6 1441.4 L644.9 1439.6 L647.3 1437.8 L649.7 1436.0 L652.1 1434.1 L654.5 1432.3 L656.9 1430.5 L659.3 1428.7 L661.7 1427.0 L664.1 1425.2 L666.5 1423.4 L669.0 1421.6 L671.4 1419.8 L673.8 1418.1 L676.2 1416.3 L678.7 1414.6 L681.1 1412.8 L683.5 1411.1 L686.0 1409.3 L688.4 1407.6 L690.9 1405.9 L693.3 1404.2 L695.8 1402.4 L698.3 1400.7 L700.8 1399.0 L703.2 1397.4 L705.7 1395.7 L708.2 1394.0 L710.7 1392.3 L713.2 1390.7 L715.7 1389.0 L718.2 1387.4 L720.8 1385.8 L723.3 1384.2 L725.8 1382.6 L728.4 1381.0 L730.9 1379.4 L733.5 1377.8 L736.0 1376.3 L738.6 1374.7 L741.2 1373.2 L743.8 1371.6 L746.3 1370.1 L748.9 1368.6 L751.5 1367.2 L754.2 1365.7 L756.8 1364.2 L759.4 1362.8 L762.0 1361.4 L764.7 1359.9 L767.3 1358.6 L770.0 1357.2 L772.6 1355.8 L775.3 1354.5 L778.0 1353.1 L780.7 1351.8 L783.4 1350.5 L786.1 1349.2 L788.8 1348.0 L791.5 1346.7 L794.2 1345.5 L797.0 1344.3 L799.7 1343.1 L802.5 1342.0 L805.2 1340.8 L808.0 1339.7 L810.8 1338.6 L813.6 1337.5 L816.4 1336.4 L819.2 1335.3 L822.0 1334.2 L824.8 1333.2 L827.6 1332.1 L830.4 1331.1 L833.2 1330.0 L836.1 1329.0 L838.9 1328.0 L841.7 1327.0 L844.5 1325.9 L847.4 1324.9 L850.2 1323.9 L853.0 1322.8 L855.8 1321.8 L858.7 1320.8 L861.5 1319.7 L864.3 1318.7 L867.1 1317.7 L870.0 1316.6 L872.8 1315.6 L875.6 1314.5 L878.4 1313.4 L881.2 1312.4 L884.0 1311.3 L886.8 1310.2 L889.6 1309.1 L892.4 1308.0 L895.2 1306.8 L897.9 1305.7 L900.7 1304.6 L903.5 1303.4 L906.2 1302.2 L909.0 1301.0 L911.7 1299.8 L914.5 1298.6 L917.2 1297.4 L919.9 1296.1 L922.6 1294.9 L925.3 1293.6 L928.0 1292.3 L930.7 1291.0 L933.4 1289.6 L936.0 1288.3 L938.7 1286.9 L941.3 1285.5 L944.0 1284.1 L946.6 1282.7 L949.2 1281.2 L951.8 1279.7 L954.4 1278.3 L957.0 1276.8 L959.6 1275.3 L962.2 1273.8 L964.7 1272.2 L967.3 1270.7 L969.9 1269.1 L972.4 1267.5 L974.9 1265.9 L977.5 1264.3 L980.0 1262.7 L982.5 1261.1 L985.0 1259.4 L987.5 1257.8 L990.0 1256.1 L992.5 1254.4 L994.9 1252.7 L997.4 1251.0 L999.9 1249.3 L1002.3 1247.6 L1004.8 1245.9 L1007.2 1244.1 L1009.7 1242.4 L1012.1 1240.6 L1014.5 1238.8 L1016.9 1237.0 L1019.4 1235.2 L1021.8 1233.4 L1024.2 1231.6 L1026.6 1229.8 L1029.0 1228.0 L1031.3 1226.1 L1033.7 1224.3 L1036.1 1222.5 L1038.5 1220.6 L1040.8 1218.7 L1043.2 1216.9 L1045.6 1215.0 L1047.9 1213.1 L1050.2 1211.3 L1052.6 1209.4 L1054.9 1207.5 L1057.3 1205.6 L1059.6 1203.7 L1061.9 1201.8 L1064.2 1199.9 L1066.6 1198.0 L1068.9 1196.0 L1071.2 1194.1 L1073.5 1192.2 L1075.8 1190.3 L1078.1 1188.4 L1080.4 1186.4 L1082.7 1184.5 L1085.0 1182.6 L1087.3 1180.7 L1089.6 1178.7 L1091.9 1176.8 L1094.2 1174.9 L1096.4 1173.0 L1098.7 1171.0 L1101.0 1169.1 L1103.3 1167.2 L1105.7 1165.4 L1108.0 1163.5 L1110.3 1161.6 L1112.6 1159.7 L1115.0 1157.9 L1117.3 1156.1 L1119.7 1154.2 L1122.1 1152.4 L1124.4 1150.6 L1126.8 1148.9 L1129.3 1147.1 L1131.7 1145.4 L1134.1 1143.7 L1136.6 1142.0 L1139.1 1140.3 L1141.5 1138.6 L1144.0 1136.9 L1146.5 1135.3 L1149.0 1133.6 L1151.5 1132.0 L1154.0 1130.3 L1156.5 1128.7 L1159.1 1127.1 L1161.6 1125.4 L1164.1 1123.8 L1166.6 1122.2 L1169.1 1120.5 L1171.6 1118.9 L1174.1 1117.2 L1176.6 1115.6 L1179.1 1113.9 L1181.6 1112.2 L1184.1 1110.6 L1186.6 1108.9 L1189.1 1107.2 L1191.6 1105.5 L1194.0 1103.8 L1196.5 1102.2 L1199.0 1100.5 L1201.5 1098.8 L1203.9 1097.1 L1206.4 1095.4 L1208.9 1093.7 L1211.4 1092.1 L1213.9 1090.4 L1216.3 1088.7 L1218.8 1087.0 L1221.3 1085.4 L1223.8 1083.7 L1226.3 1082.1 L1228.8 1080.5 L1231.3 1078.8 L1233.8 1077.2 L1236.4 1075.6 L1238.9 1074.0 L1241.4 1072.5 L1244.0 1070.9 L1246.5 1069.3 L1249.1 1067.8 L1251.6 1066.3 L1254.2 1064.8 L1256.8 1063.3 L1259.4 1061.8 L1262.0 1060.3 L1264.6 1058.9 L1267.2 1057.4 L1269.9 1056.0 L1272.5 1054.6 L1275.1 1053.2 L1277.8 1051.8 L1280.4 1050.4 L1283.1 1049.0 L1285.8 1047.6 L1288.4 1046.2 L1291.1 1044.9 L1293.8 1043.5 L1296.5 1042.2 L1299.1 1040.9 L1301.8 1039.5 L1304.5 1038.2 L1307.2 1036.9 L1309.9 1035.6 L1312.6 1034.2 L1315.3 1032.9 L1318.0 1031.6 L1320.7 1030.3 L1323.4 1029.0 L1326.1 1027.7 L1328.8 1026.4 L1331.5 1025.1 L1334.2 1023.8 L1336.9 1022.4 L1339.6 1021.1 L1342.3 1019.8 L1345.0 1018.5 L1347.7 1017.2 L1350.4 1015.8 L1353.1 1014.5 L1355.8 1013.2 L1358.5 1011.8 L1361.2 1010.5 L1363.9 1009.1 L1366.5 1007.7 L1369.2 1006.3 L1371.9 1005.0 L1374.5 1003.6 L1377.2 1002.2 L1379.8 1000.7 L1382.4 999.3 L1385.1 997.9 L1387.7 996.4 L1390.3 995.0 L1392.9 993.5 L1395.6 992.1 L1398.2 990.6 L1400.8 989.1 L1403.4 987.7 L1406.0 986.2 L1408.6 984.8 L1411.3 983.3 L1413.9 981.9 L1416.5 980.5 L1419.2 979.1 L1421.8 977.7 L1424.5 976.3 L1427.1 974.9 L1429.8 973.6 L1432.5 972.2 L1435.1 970.9 L1437.8 969.6 L1440.6 968.4 L1443.3 967.1 L1446.0 965.9 L1448.8 964.8 L1451.6 963.6 L1454.3 962.5 L1457.1 961.4 L1459.9 960.3 L1462.7 959.2 L1465.6 958.2 L1468.4 957.1 L1471.2 956.1 L1474.0 955.0 L1476.8 954.0 L1479.6 952.9 L1482.5 951.8 L1485.3 950.7 L1488.0 949.6 L1490.8 948.4 L1493.6 947.3 L1496.3 946.1 L1499.0 944.8 L1501.8 943.5 L1504.5 942.3 L1507.2 940.9 L1509.8 939.6 L1512.5 938.3 L1515.2 936.9 L1517.9 935.5 L1520.5 934.2 L1523.2 932.8 L1525.9 931.5 L1528.5 930.1 L1531.2 928.8 L1533.9 927.5 L1536.6 926.2 L1539.3 925.0 L1542.0 923.7 L1544.8 922.5 L1547.5 921.4 L1550.3 920.2 L1553.1 919.1 L1555.9 918.0 L1558.7 916.9 L1561.5 915.9 L1564.3 914.9 L1567.1 913.9 L1569.9 912.9 L1572.8 911.9 L1575.6 910.9 L1578.5 910.0 L1581.3 909.1 L1584.2 908.1 L1587.1 907.2 L1589.9 906.3 L1592.8 905.4 L1595.7 904.6 L1598.6 903.7 L1601.4 902.8 L1604.3 901.9 L1607.2 901.0 L1610.1 900.2 L1612.9 899.3 L1615.8 898.4 L1618.7 897.5 L1621.5 896.6 L1624.4 895.7 L1627.3 894.8 L1630.1 893.9 L1633.0 893.0 L1635.8 892.1 L1638.7 891.2 L1641.5 890.2 L1644.3 889.3 L1647.2 888.4 L1650.0 887.4 L1652.8 886.5 L1655.7 885.6 L1658.5 884.6 L1661.3 883.7 L1664.2 882.8 L1667.0 881.8 L1669.8 880.9 L1672.7 880.0 L1675.5 879.0 L1678.3 878.1 L1681.2 877.2 L1684.0 876.2 L1686.8 875.3 L1689.6 874.4 L1692.5 873.5 L1695.3 872.5 L1698.1 871.6 L1701.0 870.7 L1703.8 869.8 L1706.7 868.9 L1709.5 868.0 L1712.4 867.1 L1715.2 866.2 L1718.1 865.4 L1720.9 864.5 L1723.8 863.6 L1726.6 862.8 L1729.5 861.9 L1732.4 861.1 L1735.2 860.3 L1738.1 859.5 L1741.0 858.7 L1743.9 857.9 L1746.8 857.1 L1749.7 856.3 L1752.6 855.5 L1755.5 854.8 L1758.4 854.0 L1761.3 853.3 L1764.2 852.6 L1767.2 851.9 L1770.1 851.2 L1773.0 850.5 L1776.0 849.8 L1778.9 849.2 L1781.9 848.5 L1784.9 847.9 L1787.9 847.3 L1790.8 846.7 L1793.8 846.2 L1796.8 845.6 L1799.8 845.1 L1802.9 844.6 L1805.9 844.1 L1808.9 843.6 L1811.9 843.2 L1814.9 842.8 L1818.0 842.4 L1821.0 842.0 L1824.0 841.7 L1827.0 841.4 L1830.1 841.2 L1833.1 841.0 L1836.1 840.8 L1839.1 840.6 L1842.1 840.6 L1845.1 840.5 L1848.1 840.5 L1851.0 840.5 L1854.0 840.6 L1857.0 840.8 L1859.9 841.0 L1862.8 841.2 L1865.8 841.5 L1868.7 841.9 L1871.6 842.3 L1874.4 842.8 L1877.3 843.3 L1880.1 843.9 L1883.0 844.5 L1885.8 845.3 L1888.6 846.1 L1891.3 846.9 L1894.1 847.8 L1896.8 848.8 L1899.5 849.8 L1902.2 850.9 L1904.9 852.1 L1907.6 853.3 L1910.2 854.5 L1912.9 855.8 L1915.5 857.2 L1918.1 858.6 L1920.7 860.0 L1923.3 861.5 L1925.9 863.0 L1928.4 864.6 L1931.0 866.1 L1933.5 867.8 L1936.1 869.4 L1938.6 871.1 L1941.1 872.8 L1943.6 874.5 L1946.1 876.3 L1948.6 878.0 L1951.1 879.8 L1953.6 881.6 L1956.0 883.5 L1958.5 885.3 L1961.0 887.1 L1963.4 889.0 L1965.9 890.9 L1968.4 892.7 L1970.8 894.6 L1973.3 896.5 L1975.7 898.3 L1978.2 900.2 L1980.6 902.0 L1983.1 903.9 L1985.5 905.7 L1988.0 907.5 L1990.5 909.4 L1992.9 911.2 L1995.4 912.9 L1997.9 914.7 L2000.4 916.4 L2002.8 918.1 L2005.3 919.8 L2007.8 921.5 L2010.3 923.1 L2012.8 924.7 L2015.3 926.3 L2017.9 927.8 L2020.4 929.3 L2022.9 930.8 L2025.5 932.2 L2028.1 933.7 L2030.6 935.1 L2033.2 936.4 L2035.8 937.8 L2038.4 939.1 L2041.1 940.4 L2043.7 941.7 L2046.3 943.0 L2049.0 944.2 L2051.7 945.5 L2054.4 946.7 L2057.1 947.9 L2059.8 949.1 L2062.6 950.3 L2065.3 951.4 L2068.1 952.6 L2070.9 953.8 L2073.6 954.9 L2076.4 956.1 L2079.2 957.2 L2082.0 958.3 L2084.8 959.5 L2087.6 960.6 L2090.4 961.7 L2093.2 962.9 L2096.0 964.0 L2098.9 965.2 L2101.6 966.3 L2104.4 967.5 L2107.2 968.6 L2110.0 969.8 L2112.8 971.0 L2115.5 972.2 L2118.3 973.5 L2121.0 974.7 L2123.7 976.0 L2126.3 977.3 L2129.0 978.7 L2131.6 980.1 L2134.2 981.6 L2136.7 983.1 L2139.2 984.6 L2141.6 986.3 L2144.1 987.9 L2146.4 989.7 L2148.7 991.5 L2151.0 993.4 L2153.2 995.4 L2155.3 997.4 L2157.4 999.5 L2159.5 1001.6 L2161.6 1003.8 L2163.6 1006.0 L2165.5 1008.2 L2167.5 1010.5 L2169.4 1012.8 L2171.3 1015.1 L2173.2 1017.5 L2175.1 1019.9 L2177.0 1022.3 L2178.8 1024.6 L2180.7 1027.0 L2182.5 1029.4 L2184.3 1031.8 L2186.1 1034.2 L2188.0 1036.6 L2189.8 1039.0 L2191.6 1041.4 L2193.5 1043.8 L2195.3 1046.2 L2197.1 1048.6 L2199.0 1051.0 L2200.8 1053.3 L2202.7 1055.7 L2204.5 1058.0 L2206.4 1060.4 L2208.3 1062.7 L2210.2 1065.0 L2212.2 1067.3 L2214.1 1069.6 L2216.1 1071.8 L2218.1 1074.1 L2220.1 1076.3 L2222.1 1078.4 L2224.2 1080.6 L2226.2 1082.7 L2228.4 1084.9 L2230.5 1086.9 L2232.7 1089.0 L2234.9 1091.0 L2237.1 1093.0 L2239.4 1095.0 L2241.7 1096.9 L2244.1 1098.8 L2246.5 1100.6 L2248.9 1102.4 L2251.4 1104.2" stroke="#3cc6ea" stroke-width="1.05" fill="none" stroke-linejoin="round"/>
<path d="M122.6 1233.1 L123.4 1230.2 L124.1 1227.3 L124.9 1224.4 L125.7 1221.5 L126.5 1218.6 L127.3 1215.7 L128.0 1212.8 L128.8 1209.9 L129.6 1207.0 L130.4 1204.1 L131.1 1201.2 L131.9 1198.4 L132.7 1195.5 L133.5 1192.6 L134.3 1189.7 L135.1 1186.8 L135.9 1183.9 L136.7 1181.0 L137.4 1178.1 L138.2 1175.2 L139.0 1172.3 L139.8 1169.4 L140.6 1166.5 L141.4 1163.6 L142.2 1160.7 L143.0 1157.8 L143.8 1154.9 L144.6 1152.1 L145.4 1149.2 L146.2 1146.3 L147.0 1143.4 L147.8 1140.5 L148.7 1137.6 L149.5 1134.7 L150.3 1131.8 L151.1 1129.0 L151.9 1126.1 L152.7 1123.2 L153.6 1120.3 L154.4 1117.4 L155.2 1114.5 L156.0 1111.7 L156.9 1108.8 L157.7 1105.9 L158.5 1103.0 L159.3 1100.1 L160.2 1097.3 L161.0 1094.4 L161.9 1091.5 L162.7 1088.6 L163.5 1085.8 L164.4 1082.9 L165.2 1080.0 L166.1 1077.1 L166.9 1074.3 L167.8 1071.4 L168.6 1068.5 L169.5 1065.6 L170.3 1062.8 L171.2 1059.9 L172.1 1057.0 L172.9 1054.2 L173.8 1051.3 L174.7 1048.4 L175.5 1045.6 L176.4 1042.7 L177.3 1039.8 L178.2 1037.0 L179.0 1034.1 L179.9 1031.2 L180.8 1028.4 L181.7 1025.5 L182.6 1022.6 L183.5 1019.8 L184.4 1016.9 L185.3 1014.1 L186.2 1011.2 L187.1 1008.3 L188.0 1005.5 L188.9 1002.6 L189.8 999.8 L190.7 996.9 L191.6 994.1 L192.5 991.2 L193.4 988.4 L194.4 985.5 L195.3 982.7 L196.2 979.8 L197.1 977.0 L198.1 974.1 L199.0 971.3 L199.9 968.4 L200.9 965.6 L201.8 962.7 L202.8 959.9 L203.7 957.0 L204.7 954.2 L205.6 951.4 L206.6 948.5 L207.5 945.7 L208.5 942.8 L209.5 940.0 L210.4 937.2 L211.4 934.3 L212.4 931.5 L213.4 928.7 L214.3 925.8 L215.3 923.0 L216.3 920.2 L217.3 917.3 L218.3 914.5 L219.3 911.7 L220.3 908.9 L221.3 906.0 L222.3 903.2 L223.3 900.4 L224.4 897.6 L225.4 894.7 L226.4 891.9 L227.4 889.1 L228.5 886.3 L229.5 883.5 L230.6 880.7 L231.6 877.9 L232.7 875.1 L233.7 872.3 L234.8 869.5 L235.9 866.7 L237.0 863.9 L238.0 861.1 L239.1 858.3 L240.2 855.5 L241.3 852.7 L242.5 850.0 L243.6 847.2 L244.7 844.4 L245.8 841.6 L247.0 838.9 L248.1 836.1 L249.3 833.3 L250.4 830.6 L251.6 827.8 L252.8 825.1 L253.9 822.3 L255.1 819.6 L256.3 816.9 L257.5 814.1 L258.7 811.4 L259.9 808.6 L261.1 805.9 L262.4 803.2 L263.6 800.5 L264.8 797.7 L266.1 795.0 L267.3 792.3 L268.5 789.6 L269.8 786.9 L271.0 784.1 L272.3 781.4 L273.6 778.7 L274.8 776.0 L276.1 773.3 L277.3 770.6 L278.6 767.9 L279.9 765.2 L281.2 762.5 L282.5 759.7 L283.7 757.0 L285.0 754.3 L286.3 751.6 L287.6 748.9 L288.9 746.2 L290.2 743.5 L291.5 740.8 L292.8 738.2 L294.2 735.5 L295.5 732.8 L296.8 730.1 L298.1 727.4 L299.5 724.7 L300.8 722.0 L302.2 719.4 L303.5 716.7 L304.9 714.0 L306.3 711.4 L307.6 708.7 L309.0 706.0 L310.4 703.4 L311.8 700.7 L313.2 698.1 L314.6 695.4 L316.0 692.8 L317.5 690.2 L318.9 687.5 L320.3 684.9 L321.8 682.3 L323.2 679.7 L324.7 677.1 L326.2 674.5 L327.7 671.9 L329.2 669.3 L330.7 666.7 L332.2 664.1 L333.7 661.5 L335.2 658.9 L336.8 656.4 L338.3 653.8 L339.9 651.2 L341.4 648.7 L343.0 646.1 L344.5 643.6 L346.1 641.0 L347.7 638.5 L349.3 635.9 L350.9 633.4 L352.5 630.8 L354.1 628.3 L355.7 625.8 L357.3 623.3 L358.9 620.7 L360.6 618.2 L362.2 615.7 L363.8 613.2 L365.5 610.7 L367.1 608.2 L368.7 605.7 L370.4 603.2 L372.0 600.7 L373.7 598.2 L375.3 595.7 L377.0 593.2 L378.7 590.7 L380.3 588.2 L382.0 585.7 L383.7 583.2 L385.3 580.7 L387.0 578.2 L388.7 575.7 L390.3 573.2 L392.0 570.7 L393.7 568.3 L395.3 565.8 L397.0 563.3 L398.7 560.8 L400.4 558.3 L402.1 555.9 L403.8 553.4 L405.5 550.9 L407.2 548.5 L408.9 546.0 L410.6 543.5 L412.3 541.1 L414.0 538.6 L415.7 536.2 L417.4 533.7 L419.1 531.3 L420.9 528.8 L422.6 526.4 L424.3 523.9 L426.1 521.5 L427.8 519.1 L429.6 516.7 L431.3 514.2 L433.1 511.8 L434.9 509.4 L436.6 507.0 L438.4 504.6 L440.2 502.2 L442.0 499.8 L443.8 497.4 L445.6 495.0 L447.4 492.6 L449.2 490.3 L451.0 487.9 L452.9 485.5 L454.7 483.2 L456.6 480.8 L458.4 478.4 L460.3 476.1 L462.1 473.8 L464.0 471.4 L465.9 469.1 L467.8 466.8 L469.7 464.5 L471.6 462.1 L473.5 459.8 L475.4 457.5 L477.3 455.3 L479.3 453.0 L481.2 450.7 L483.2 448.4 L485.2 446.2 L487.1 443.9 L489.1 441.7 L491.1 439.4 L493.1 437.2 L495.1 435.0 L497.2 432.7 L499.2 430.5 L501.2 428.3 L503.3 426.1 L505.4 423.9 L507.4 421.7 L509.5 419.6 L511.6 417.4 L513.7 415.2 L515.8 413.1 L517.9 410.9 L520.0 408.8 L522.1 406.7 L524.3 404.6 L526.4 402.4 L528.6 400.3 L530.7 398.2 L532.9 396.1 L535.1 394.1 L537.2 392.0 L539.4 389.9 L541.6 387.9 L543.8 385.8 L546.0 383.8 L548.2 381.8 L550.5 379.7 L552.7 377.7 L554.9 375.7 L557.1 373.7 L559.4 371.7 L561.6 369.7 L563.9 367.8 L566.1 365.8 L568.4 363.9 L570.7 361.9 L572.9 360.0 L575.2 358.1 L577.5 356.1 L579.8 354.2 L582.1 352.3 L584.4 350.5 L586.7 348.6 L589.1 346.7 L591.4 344.9 L593.7 343.1 L596.1 341.2 L598.5 339.4 L600.8 337.6 L603.2 335.9 L605.6 334.1 L608.0 332.3 L610.4 330.6 L612.8 328.9 L615.3 327.2 L617.7 325.5 L620.2 323.8 L622.7 322.1 L625.1 320.5 L627.6 318.8 L630.1 317.2 L632.7 315.6 L635.2 314.0 L637.8 312.5 L640.3 310.9 L642.9 309.4 L645.5 307.9 L648.1 306.4 L650.7 304.9 L653.3 303.4 L655.9 301.9 L658.5 300.4 L661.2 299.0 L663.8 297.5 L666.4 296.0 L669.1 294.5 L671.7 293.1 L674.3 291.6 L676.9 290.1 L679.6 288.6 L682.2 287.1 L684.8 285.6 L687.4 284.0 L690.0 282.5 L692.6 280.9 L695.2 279.3 L697.7 277.7 L700.3 276.1 L702.8 274.5 L705.3 272.8 L707.8 271.1 L710.3 269.4 L712.8 267.7 L715.3 266.0 L717.8 264.3 L720.3 262.6 L722.8 260.9 L725.3 259.3 L727.8 257.7 L730.4 256.1 L732.9 254.6 L735.5 253.1 L738.1 251.7 L740.8 250.4 L743.5 249.1 L746.2 247.9 L748.9 246.8 L751.6 245.7 L754.4 244.7 L757.2 243.7 L760.0 242.7 L762.9 241.9 L765.7 241.0 L768.6 240.2 L771.5 239.5 L774.4 238.7 L777.3 238.0 L780.2 237.4 L783.2 236.8 L786.1 236.2 L789.1 235.6 L792.1 235.1 L795.0 234.5 L798.0 234.0 L801.0 233.6 L804.0 233.1 L807.0 232.6 L809.9 232.2 L812.9 231.8 L815.9 231.3 L818.9 230.9 L821.9 230.5 L824.9 230.1 L827.8 229.7 L830.8 229.4 L833.8 229.0 L836.8 228.7 L839.7 228.3 L842.7 228.0 L845.7 227.7 L848.7 227.4 L851.6 227.2 L854.6 226.9 L857.6 226.7 L860.5 226.5 L863.5 226.3 L866.5 226.2 L869.5 226.0 L872.4 225.9 L875.4 225.9 L878.4 225.8 L881.4 225.8 L884.4 225.8 L887.3 225.8 L890.3 225.9 L893.3 226.0 L896.3 226.1 L899.3 226.2 L902.3 226.4 L905.3 226.5 L908.3 226.7 L911.2 226.9 L914.2 227.1 L917.2 227.3 L920.2 227.5 L923.2 227.7 L926.2 227.9 L929.2 228.1 L932.2 228.3 L935.2 228.5 L938.2 228.7 L941.2 228.8 L944.2 229.0 L947.2 229.1 L950.2 229.2 L953.2 229.3 L956.2 229.4 L959.2 229.5 L962.2 229.5 L965.2 229.5 L968.2 229.5 L971.2 229.5 L974.2 229.5 L977.2 229.5 L980.2 229.4 L983.2 229.4 L986.2 229.4 L989.2 229.4 L992.2 229.4 L995.2 229.4 L998.2 229.4 L1001.2 229.4 L1004.2 229.4 L1007.2 229.5 L1010.2 229.6 L1013.2 229.7 L1016.2 229.8 L1019.1 229.9 L1022.1 230.1 L1025.1 230.2 L1028.1 230.3 L1031.1 230.4 L1034.1 230.5 L1037.1 230.6 L1040.1 230.6 L1043.1 230.6 L1046.1 230.6 L1049.1 230.6 L1052.0 230.5 L1055.0 230.3 L1058.0 230.1 L1061.0 229.9 L1064.0 229.6 L1066.9 229.3 L1069.9 228.9 L1072.9 228.5 L1075.9 228.1 L1078.8 227.6 L1081.8 227.2 L1084.8 226.7 L1087.7 226.2 L1090.7 225.7 L1093.7 225.2 L1096.6 224.8 L1099.6 224.3 L1102.6 223.8 L1105.5 223.3 L1108.5 222.9 L1111.5 222.5 L1114.4 222.1 L1117.4 221.7 L1120.4 221.4 L1123.4 221.1 L1126.3 220.9 L1129.3 220.7 L1132.3 220.5 L1135.2 220.4 L1138.2 220.4 L1141.2 220.3 L1144.2 220.4 L1147.2 220.4 L1150.1 220.5 L1153.1 220.6 L1156.1 220.7 L1159.1 220.9 L1162.1 221.1 L1165.0 221.3 L1168.0 221.5 L1171.0 221.7 L1174.0 222.0 L1177.0 222.2 L1180.0 222.5 L1183.0 222.7 L1185.9 223.0 L1188.9 223.3 L1191.9 223.6 L1194.9 223.9 L1197.9 224.2 L1200.9 224.5 L1203.9 224.8 L1206.8 225.1 L1209.8 225.4 L1212.8 225.8 L1215.8 226.1 L1218.8 226.5 L1221.7 226.8 L1224.7 227.2 L1227.7 227.6 L1230.7 228.0 L1233.6 228.4 L1236.6 228.8 L1239.6 229.3 L1242.5 229.7 L1245.5 230.2 L1248.5 230.6 L1251.4 231.1 L1254.4 231.6 L1257.3 232.1 L1260.3 232.6 L1263.2 233.1 L1266.2 233.7 L1269.1 234.2 L1272.1 234.8 L1275.0 235.4 L1277.9 236.0 L1280.9 236.6 L1283.8 237.2 L1286.7 237.8 L1289.6 238.5 L1292.6 239.1 L1295.5 239.8 L1298.4 240.4 L1301.3 241.1 L1304.2 241.8 L1307.1 242.5 L1310.0 243.2 L1313.0 243.9 L1315.9 244.6 L1318.8 245.3 L1321.7 246.0 L1324.6 246.7 L1327.5 247.5 L1330.4 248.2 L1333.3 248.9 L1336.2 249.6 L1339.1 250.4 L1342.0 251.1 L1344.9 251.8 L1347.8 252.5 L1350.7 253.2 L1353.6 254.0 L1356.6 254.7 L1359.5 255.4 L1362.4 256.1 L1365.3 256.8 L1368.2 257.4 L1371.1 258.1 L1374.1 258.8 L1377.0 259.5 L1379.9 260.1 L1382.8 260.8 L1385.8 261.4 L1388.7 262.0 L1391.6 262.7 L1394.6 263.3 L1397.5 263.9 L1400.4 264.6 L1403.4 265.2 L1406.3 265.8 L1409.3 266.5 L1412.2 267.1 L1415.1 267.7 L1418.1 268.4 L1421.0 269.0 L1423.9 269.7 L1426.8 270.3 L1429.8 271.0 L1432.7 271.7 L1435.6 272.4 L1438.5 273.1 L1441.5 273.8 L1444.4 274.5 L1447.3 275.2 L1450.2 276.0 L1453.1 276.7 L1456.0 277.5 L1458.9 278.3 L1461.8 279.1 L1464.6 279.9 L1467.5 280.7 L1470.4 281.5 L1473.3 282.3 L1476.2 283.2 L1479.0 284.0 L1481.9 284.8 L1484.8 285.7 L1487.7 286.5 L1490.5 287.4 L1493.4 288.2 L1496.3 289.1 L1499.2 289.9 L1502.0 290.8 L1504.9 291.6 L1507.8 292.4 L1510.7 293.3 L1513.5 294.1 L1516.4 294.9 L1519.3 295.7 L1522.2 296.5 L1525.1 297.3 L1528.0 298.0 L1530.8 298.8 L1533.7 299.5 L1536.6 300.3 L1539.5 301.0 L1542.4 301.7 L1545.4 302.4 L1548.3 303.0 L1551.2 303.7 L1554.1 304.3 L1557.0 304.9 L1560.0 305.5 L1562.9 306.1 L1565.8 306.7 L1568.8 307.3 L1571.7 307.9 L1574.7 308.5 L1577.6 309.0 L1580.5 309.6 L1583.5 310.2 L1586.4 310.8 L1589.3 311.4 L1592.3 312.0 L1595.2 312.6 L1598.1 313.3 L1601.0 313.9 L1603.9 314.6 L1606.8 315.3 L1609.7 316.0 L1612.6 316.8 L1615.5 317.6 L1618.4 318.4 L1621.3 319.2 L1624.2 320.1 L1627.0 321.0 L1629.9 321.9 L1632.7 322.8 L1635.6 323.8 L1638.4 324.8 L1641.2 325.8 L1644.1 326.8 L1646.9 327.8 L1649.7 328.8 L1652.6 329.8 L1655.4 330.8 L1658.2 331.8 L1661.1 332.8 L1663.9 333.8 L1666.7 334.8 L1669.6 335.8 L1672.4 336.8 L1675.2 337.8 L1678.1 338.7 L1680.9 339.7 L1683.8 340.6 L1686.6 341.5 L1689.5 342.5 L1692.3 343.4 L1695.2 344.3 L1698.0 345.2 L1700.9 346.1 L1703.7 347.0 L1706.6 348.0 L1709.4 348.9 L1712.3 349.7 L1715.1 350.6 L1718.0 351.5 L1720.8 352.4 L1723.7 353.3 L1726.5 354.2 L1729.4 355.1 L1732.2 356.0 L1735.1 356.9 L1737.9 357.8 L1740.8 358.7 L1743.6 359.6 L1746.5 360.6 L1749.3 361.5 L1752.2 362.4 L1755.0 363.3 L1757.9 364.3 L1760.7 365.2 L1763.6 366.2 L1766.4 367.1 L1769.2 368.1 L1772.1 369.1 L1774.9 370.1 L1777.7 371.1 L1780.6 372.1 L1783.4 373.1 L1786.2 374.1 L1789.0 375.2 L1791.9 376.2 L1794.7 377.3 L1797.5 378.4 L1800.2 379.5 L1803.0 380.6 L1805.8 381.8 L1808.6 382.9 L1811.3 384.1 L1814.1 385.3 L1816.8 386.6 L1819.5 387.8 L1822.2 389.1 L1824.9 390.4 L1827.6 391.7 L1830.3 393.1 L1832.9 394.5 L1835.5 395.9 L1838.2 397.3 L1840.8 398.8 L1843.3 400.3 L1845.9 401.9 L1848.4 403.4 L1851.0 405.0 L1853.5 406.7 L1855.9 408.4 L1858.4 410.1 L1860.8 411.8 L1863.2 413.6 L1865.6 415.4 L1868.0 417.3 L1870.3 419.2 L1872.6 421.1 L1874.9 423.1 L1877.2 425.0 L1879.4 427.0 L1881.7 429.1 L1883.9 431.1 L1886.1 433.2 L1888.2 435.3 L1890.4 437.4 L1892.5 439.6 L1894.6 441.8 L1896.7 444.0 L1898.7 446.2 L1900.8 448.4 L1902.8 450.6 L1904.8 452.9 L1906.8 455.2 L1908.7 457.4 L1910.7 459.7 L1912.6 462.0 L1914.5 464.4 L1916.4 466.7 L1918.3 469.1 L1920.1 471.4 L1921.9 473.8 L1923.8 476.2 L1925.6 478.6 L1927.4 481.0 L1929.1 483.4 L1930.9 485.8 L1932.7 488.2 L1934.4 490.7 L1936.1 493.1 L1937.8 495.6 L1939.5 498.0 L1941.2 500.5 L1942.9 503.0 L1944.6 505.5 L1946.3 507.9 L1947.9 510.4 L1949.6 512.9 L1951.2 515.4 L1952.9 518.0 L1954.5 520.5 L1956.1 523.0 L1957.7 525.5 L1959.4 528.0 L1961.0 530.6 L1962.6 533.1 L1964.2 535.6 L1965.8 538.2 L1967.4 540.7 L1969.0 543.2 L1970.6 545.8 L1972.2 548.3 L1973.8 550.9 L1975.4 553.4 L1977.0 555.9 L1978.6 558.5 L1980.2 561.0 L1981.8 563.5 L1983.5 566.1 L1985.1 568.6 L1986.7 571.1 L1988.3 573.6 L1990.0 576.2 L1991.6 578.7 L1993.2 581.2 L1994.9 583.7 L1996.6 586.2 L1998.2 588.6 L1999.9 591.1 L2001.6 593.6 L2003.3 596.1 L2005.0 598.5 L2006.7 601.0 L2008.4 603.4 L2010.2 605.8 L2011.9 608.2 L2013.7 610.7 L2015.4 613.0 L2017.2 615.4 L2019.0 617.8 L2020.9 620.2 L2022.7 622.5 L2024.5 624.8 L2026.4 627.1 L2028.3 629.4 L2030.2 631.7 L2032.1 634.0 L2034.0 636.3 L2036.0 638.5 L2037.9 640.7 L2039.9 642.9 L2041.9 645.1 L2044.0 647.3 L2046.0 649.4 L2048.1 651.5 L2050.2 653.6 L2052.3 655.7 L2054.4 657.8 L2056.5 659.9 L2058.7 661.9 L2060.9 664.0 L2063.1 666.0 L2065.3 668.0 L2067.5 670.0 L2069.7 672.0 L2071.9 674.0 L2074.2 676.0 L2076.4 678.0 L2078.7 680.0 L2080.9 682.0 L2083.1 684.0 L2085.4 686.0 L2087.6 688.0 L2089.8 690.1 L2092.0 692.1 L2094.2 694.2 L2096.3 696.3 L2098.5 698.4 L2100.6 700.5 L2102.7 702.7 L2104.8 704.8 L2106.8 707.0 L2108.9 709.2 L2110.9 711.4 L2112.8 713.7 L2114.8 716.0 L2116.7 718.3 L2118.5 720.6 L2120.4 722.9 L2122.2 725.3 L2124.0 727.7 L2125.8 730.0 L2127.5 732.5 L2129.2 734.9 L2130.9 737.3 L2132.6 739.8 L2134.3 742.3 L2135.9 744.8 L2137.5 747.3 L2139.1 749.8 L2140.7 752.4 L2142.2 754.9 L2143.7 757.5 L2145.3 760.1 L2146.8 762.7 L2148.2 765.3 L2149.7 767.9 L2151.2 770.5 L2152.6 773.1 L2154.0 775.8 L2155.4 778.4 L2156.8 781.1 L2158.2 783.7 L2159.6 786.4 L2161.0 789.1 L2162.3 791.8 L2163.7 794.5 L2165.0 797.2 L2166.4 799.9 L2167.7 802.6 L2169.0 805.3 L2170.4 808.0 L2171.7 810.7 L2173.0 813.4 L2174.3 816.1 L2175.6 818.8 L2176.9 821.6 L2178.2 824.3 L2179.5 827.0 L2180.9 829.7 L2182.2 832.4 L2183.5 835.1 L2184.8 837.8 L2186.1 840.5 L2187.5 843.2 L2188.8 845.9 L2190.2 848.6 L2191.5 851.2 L2192.9 853.9 L2194.3 856.6 L2195.7 859.2 L2197.1 861.9 L2198.5 864.5 L2199.9 867.1 L2201.4 869.8 L2202.8 872.4 L2204.3 875.0 L2205.8 877.5 L2207.3 880.1 L2208.9 882.7 L2210.4 885.2 L2212.0 887.7 L2213.6 890.3 L2215.2 892.8 L2216.8 895.2 L2218.5 897.7 L2220.2 900.2 L2221.9 902.6 L2223.6 905.0 L2225.4 907.4 L2227.2 909.8 L2229.0 912.1 L2230.9 914.5 L2232.7 916.8 L2234.7 919.1 L2236.6 921.4 L2238.6 923.6 L2240.6 925.8 L2242.6 928.0 L2244.7 930.2 L2246.8 932.4 L2249.0 934.5 L2251.2 936.6 L2253.4 938.7 L2255.7 940.7" stroke="#a81c24" stroke-width="1.15" fill="none" stroke-linejoin="round"/>
<path d="M122.5 1233.1 L123.3 1230.2 L124.1 1227.3 L124.9 1224.4 L125.7 1221.5 L126.5 1218.7 L127.3 1215.8 L128.1 1212.9 L128.9 1210.0 L129.7 1207.1 L130.5 1204.2 L131.3 1201.3 L132.1 1198.4 L132.9 1195.5 L133.7 1192.6 L134.5 1189.7 L135.3 1186.8 L136.1 1183.9 L136.9 1181.1 L137.7 1178.2 L138.5 1175.3 L139.3 1172.4 L140.1 1169.5 L140.9 1166.6 L141.7 1163.7 L142.5 1160.8 L143.3 1157.9 L144.1 1155.0 L144.9 1152.2 L145.7 1149.3 L146.5 1146.4 L147.3 1143.5 L148.1 1140.6 L148.9 1137.7 L149.7 1134.8 L150.5 1131.9 L151.3 1129.0 L152.1 1126.2 L152.9 1123.3 L153.7 1120.4 L154.5 1117.5 L155.3 1114.6 L156.1 1111.7 L157.0 1108.9 L157.8 1106.0 L158.6 1103.1 L159.4 1100.2 L160.2 1097.3 L161.1 1094.4 L161.9 1091.6 L162.7 1088.7 L163.5 1085.8 L164.4 1082.9 L165.2 1080.0 L166.0 1077.2 L166.9 1074.3 L167.7 1071.4 L168.5 1068.5 L169.4 1065.7 L170.2 1062.8 L171.1 1059.9 L171.9 1057.0 L172.8 1054.2 L173.6 1051.3 L174.5 1048.4 L175.4 1045.6 L176.2 1042.7 L177.1 1039.8 L177.9 1036.9 L178.8 1034.1 L179.7 1031.2 L180.6 1028.4 L181.4 1025.5 L182.3 1022.6 L183.2 1019.8 L184.1 1016.9 L185.0 1014.0 L185.9 1011.2 L186.8 1008.3 L187.7 1005.5 L188.6 1002.6 L189.5 999.8 L190.4 996.9 L191.3 994.0 L192.2 991.2 L193.1 988.3 L194.1 985.5 L195.0 982.6 L195.9 979.8 L196.9 976.9 L197.8 974.1 L198.8 971.3 L199.7 968.4 L200.7 965.6 L201.6 962.7 L202.6 959.9 L203.5 957.0 L204.5 954.2 L205.5 951.4 L206.5 948.5 L207.4 945.7 L208.4 942.9 L209.4 940.0 L210.4 937.2 L211.4 934.4 L212.4 931.5 L213.4 928.7 L214.4 925.9 L215.4 923.1 L216.4 920.2 L217.5 917.4 L218.5 914.6 L219.5 911.8 L220.5 909.0 L221.6 906.2 L222.6 903.3 L223.7 900.5 L224.7 897.7 L225.7 894.9 L226.8 892.1 L227.8 889.3 L228.9 886.5 L229.9 883.7 L231.0 880.9 L232.1 878.1 L233.1 875.3 L234.2 872.5 L235.3 869.7 L236.3 866.9 L237.4 864.1 L238.5 861.3 L239.5 858.6 L240.6 855.8 L241.7 853.0 L242.8 850.2 L243.8 847.4 L244.9 844.7 L246.0 841.9 L247.1 839.1 L248.2 836.3 L249.3 833.6 L250.4 830.8 L251.5 828.0 L252.7 825.3 L253.8 822.5 L254.9 819.7 L256.1 817.0 L257.2 814.2 L258.3 811.5 L259.5 808.7 L260.7 806.0 L261.8 803.2 L263.0 800.5 L264.2 797.7 L265.4 795.0 L266.6 792.2 L267.8 789.5 L269.1 786.7 L270.3 784.0 L271.5 781.2 L272.8 778.5 L274.1 775.8 L275.4 773.0 L276.7 770.3 L278.0 767.6 L279.3 764.9 L280.6 762.2 L282.0 759.5 L283.4 756.9 L284.8 754.2 L286.2 751.5 L287.7 748.9 L289.2 746.3 L290.7 743.7 L292.2 741.1 L293.8 738.6 L295.4 736.1 L297.0 733.6 L298.6 731.1 L300.3 728.6 L302.0 726.2 L303.8 723.8 L305.5 721.4 L307.4 719.1 L309.2 716.8 L311.1 714.5 L313.1 712.2 L315.0 710.0 L317.0 707.9 L319.1 705.7 L321.2 703.6 L323.4 701.6 L325.6 699.6 L327.8 697.6 L330.0 695.6 L332.3 693.7 L334.6 691.8 L337.0 689.9 L339.3 688.0 L341.7 686.1 L344.1 684.3 L346.4 682.4 L348.8 680.6 L351.2 678.7 L353.6 676.9 L356.0 675.0 L358.3 673.1 L360.7 671.2 L363.0 669.3 L365.3 667.4 L367.6 665.5 L369.9 663.5 L372.2 661.6 L374.5 659.6 L376.7 657.6 L379.0 655.6 L381.2 653.6 L383.4 651.6 L385.6 649.6 L387.8 647.5 L390.0 645.5 L392.2 643.5 L394.4 641.4 L396.6 639.3 L398.7 637.3 L400.9 635.2 L403.1 633.1 L405.2 631.1 L407.4 629.0 L409.5 626.9 L411.7 624.8 L413.9 622.8 L416.0 620.7 L418.2 618.6 L420.3 616.6 L422.5 614.5 L424.7 612.4 L426.8 610.4 L429.0 608.3 L431.2 606.2 L433.4 604.2 L435.5 602.1 L437.7 600.1 L439.9 598.0 L442.1 595.9 L444.2 593.9 L446.4 591.8 L448.6 589.8 L450.8 587.7 L452.9 585.7 L455.1 583.6 L457.3 581.6 L459.5 579.5 L461.7 577.5 L463.9 575.4 L466.0 573.4 L468.2 571.3 L470.4 569.3 L472.6 567.2 L474.8 565.2 L477.0 563.1 L479.2 561.1 L481.3 559.0 L483.5 557.0 L485.7 554.9 L487.9 552.9 L490.1 550.8 L492.3 548.8 L494.5 546.7 L496.7 544.7 L498.8 542.6 L501.0 540.6 L503.2 538.5 L505.4 536.5 L507.6 534.4 L509.8 532.4 L512.0 530.3 L514.1 528.3 L516.3 526.2 L518.5 524.1 L520.7 522.1 L522.9 520.0 L525.1 518.0 L527.2 515.9 L529.4 513.8 L531.6 511.8 L533.8 509.7 L536.0 507.6 L538.1 505.6 L540.3 503.5 L542.5 501.4 L544.7 499.3 L546.8 497.3 L549.0 495.2 L551.2 493.1 L553.3 491.0 L555.5 488.9 L557.7 486.9 L559.8 484.8 L562.0 482.7 L564.2 480.6 L566.3 478.5 L568.5 476.5 L570.7 474.4 L572.9 472.4 L575.1 470.3 L577.3 468.3 L579.5 466.3 L581.8 464.3 L584.0 462.3 L586.3 460.4 L588.5 458.4 L590.8 456.5 L593.2 454.6 L595.5 452.8 L597.8 450.9 L600.2 449.1 L602.6 447.4 L605.0 445.6 L607.5 443.9 L609.9 442.3 L612.4 440.6 L614.9 439.0 L617.5 437.4 L620.0 435.9 L622.6 434.3 L625.2 432.8 L627.7 431.3 L630.3 429.8 L633.0 428.4 L635.6 426.9 L638.2 425.5 L640.8 424.0 L643.5 422.6 L646.1 421.2 L648.7 419.8 L651.4 418.4 L654.1 417.0 L656.7 415.6 L659.4 414.2 L662.1 412.9 L664.8 411.5 L667.4 410.2 L670.1 408.9 L672.8 407.6 L675.5 406.3 L678.3 405.0 L681.0 403.7 L683.7 402.4 L686.5 401.2 L689.2 399.9 L691.9 398.7 L694.7 397.5 L697.5 396.3 L700.2 395.1 L703.0 393.9 L705.8 392.7 L708.6 391.5 L711.4 390.4 L714.2 389.3 L717.0 388.2 L719.9 387.1 L722.7 386.0 L725.5 385.0 L728.4 384.1 L731.3 383.1 L734.1 382.2 L737.0 381.4 L739.9 380.6 L742.8 379.9 L745.7 379.3 L748.6 378.7 L751.5 378.1 L754.5 377.7 L757.4 377.3 L760.4 376.9 L763.3 376.7 L766.3 376.5 L769.2 376.4 L772.2 376.3 L775.2 376.3 L778.1 376.3 L781.1 376.5 L784.1 376.6 L787.0 376.9 L790.0 377.2 L792.9 377.6 L795.9 378.0 L798.8 378.4 L801.8 379.0 L804.7 379.6 L807.6 380.2 L810.5 380.9 L813.4 381.6 L816.3 382.4 L819.2 383.1 L822.1 384.0 L825.0 384.8 L827.9 385.6 L830.8 386.5 L833.7 387.4 L836.6 388.2 L839.5 389.1 L842.4 390.0 L845.3 390.8 L848.2 391.7 L851.1 392.5 L854.0 393.3 L856.9 394.1 L859.8 394.9 L862.8 395.6 L865.7 396.4 L868.6 397.1 L871.5 397.8 L874.5 398.5 L877.4 399.1 L880.4 399.8 L883.3 400.4 L886.3 401.0 L889.2 401.6 L892.2 402.2 L895.2 402.7 L898.1 403.2 L901.1 403.7 L904.1 404.1 L907.0 404.5 L910.0 404.9 L913.0 405.2 L915.9 405.5 L918.9 405.7 L921.9 405.9 L924.8 406.0 L927.8 406.1 L930.7 406.1 L933.7 406.0 L936.6 405.9 L939.6 405.7 L942.5 405.4 L945.4 405.1 L948.3 404.7 L951.2 404.2 L954.2 403.6 L957.1 403.0 L959.9 402.3 L962.8 401.6 L965.7 400.8 L968.6 399.9 L971.4 399.1 L974.3 398.2 L977.2 397.2 L980.0 396.2 L982.8 395.2 L985.7 394.2 L988.5 393.2 L991.3 392.1 L994.1 391.0 L996.9 389.8 L999.7 388.6 L1002.5 387.5 L1005.2 386.2 L1008.0 385.0 L1010.7 383.7 L1013.5 382.4 L1016.2 381.1 L1018.9 379.7 L1021.6 378.3 L1024.2 376.9 L1026.9 375.5 L1029.6 374.0 L1032.2 372.6 L1034.8 371.1 L1037.4 369.6 L1040.0 368.0 L1042.6 366.5 L1045.2 364.9 L1047.8 363.4 L1050.4 361.8 L1052.9 360.2 L1055.5 358.7 L1058.1 357.1 L1060.6 355.5 L1063.2 354.0 L1065.7 352.4 L1068.3 350.8 L1070.9 349.3 L1073.4 347.7 L1076.0 346.2 L1078.6 344.7 L1081.1 343.2 L1083.7 341.7 L1086.3 340.2 L1088.9 338.8 L1091.5 337.3 L1094.1 335.9 L1096.7 334.6 L1099.4 333.2 L1102.0 331.9 L1104.7 330.6 L1107.4 329.4 L1110.1 328.2 L1112.8 327.0 L1115.5 325.9 L1118.2 324.8 L1121.0 323.7 L1123.8 322.7 L1126.6 321.8 L1129.4 320.9 L1132.2 320.0 L1135.1 319.1 L1137.9 318.3 L1140.8 317.5 L1143.7 316.7 L1146.5 315.9 L1149.4 315.1 L1152.3 314.3 L1155.2 313.5 L1158.1 312.7 L1161.0 311.9 L1163.8 311.1 L1166.7 310.2 L1169.6 309.4 L1172.4 308.5 L1175.3 307.5 L1178.1 306.6 L1180.9 305.7 L1183.8 304.7 L1186.6 303.8 L1189.5 302.9 L1192.3 301.9 L1195.2 301.0 L1198.0 300.1 L1200.9 299.3 L1203.7 298.4 L1206.6 297.6 L1209.5 296.8 L1212.4 296.0 L1215.2 295.2 L1218.1 294.5 L1221.0 293.8 L1223.9 293.1 L1226.8 292.4 L1229.7 291.8 L1232.7 291.2 L1235.6 290.7 L1238.5 290.2 L1241.4 289.7 L1244.4 289.2 L1247.3 288.8 L1250.2 288.4 L1253.2 288.1 L1256.1 287.8 L1259.1 287.5 L1262.1 287.3 L1265.0 287.2 L1268.0 287.1 L1271.0 287.0 L1274.0 287.0 L1276.9 287.0 L1279.9 287.1 L1282.9 287.2 L1285.9 287.3 L1288.9 287.5 L1291.9 287.7 L1294.9 287.9 L1297.9 288.1 L1300.9 288.4 L1303.9 288.6 L1306.9 288.9 L1310.0 289.2 L1313.0 289.5 L1316.0 289.8 L1319.0 290.1 L1322.0 290.3 L1325.0 290.6 L1328.0 290.9 L1331.0 291.1 L1334.0 291.3 L1337.1 291.5 L1340.1 291.6 L1343.1 291.8 L1346.1 291.9 L1349.1 291.9 L1352.0 292.0 L1355.0 292.0 L1358.0 292.0 L1361.0 292.0 L1364.0 292.0 L1367.0 291.9 L1370.0 291.9 L1373.0 291.8 L1375.9 291.8 L1378.9 291.7 L1381.9 291.6 L1384.9 291.6 L1387.9 291.5 L1390.8 291.5 L1393.8 291.5 L1396.8 291.4 L1399.8 291.4 L1402.8 291.5 L1405.7 291.5 L1408.7 291.6 L1411.7 291.6 L1414.7 291.8 L1417.6 291.9 L1420.6 292.1 L1423.6 292.3 L1426.6 292.6 L1429.5 292.8 L1432.5 293.1 L1435.5 293.5 L1438.5 293.8 L1441.5 294.1 L1444.4 294.5 L1447.4 294.9 L1450.4 295.3 L1453.4 295.7 L1456.4 296.1 L1459.3 296.5 L1462.3 297.0 L1465.3 297.4 L1468.3 297.8 L1471.3 298.2 L1474.2 298.7 L1477.2 299.1 L1480.2 299.5 L1483.2 299.9 L1486.2 300.3 L1489.2 300.6 L1492.1 301.0 L1495.1 301.3 L1498.1 301.6 L1501.1 302.0 L1504.1 302.3 L1507.1 302.6 L1510.0 302.9 L1513.0 303.2 L1516.0 303.6 L1519.0 304.0 L1521.9 304.4 L1524.9 304.8 L1527.8 305.2 L1530.8 305.7 L1533.7 306.2 L1536.7 306.7 L1539.6 307.2 L1542.5 307.7 L1545.5 308.2 L1548.4 308.8 L1551.3 309.3 L1554.3 309.9 L1557.2 310.5 L1560.1 311.1 L1563.0 311.7 L1565.9 312.3 L1568.9 312.9 L1571.8 313.6 L1574.7 314.2 L1577.6 314.9 L1580.5 315.5 L1583.4 316.2 L1586.4 316.9 L1589.3 317.6 L1592.2 318.3 L1595.1 318.9 L1598.0 319.6 L1600.9 320.3 L1603.8 321.0 L1606.7 321.7 L1609.7 322.4 L1612.6 323.1 L1615.5 323.9 L1618.4 324.6 L1621.3 325.3 L1624.3 326.0 L1627.2 326.7 L1630.1 327.4 L1633.0 328.2 L1635.9 328.9 L1638.8 329.7 L1641.7 330.4 L1644.6 331.2 L1647.5 332.0 L1650.4 332.8 L1653.3 333.6 L1656.1 334.4 L1659.0 335.2 L1661.9 336.0 L1664.8 336.9 L1667.6 337.7 L1670.5 338.6 L1673.3 339.4 L1676.2 340.3 L1679.1 341.2 L1681.9 342.0 L1684.8 342.9 L1687.6 343.8 L1690.5 344.7 L1693.3 345.6 L1696.2 346.5 L1699.0 347.4 L1701.9 348.3 L1704.7 349.2 L1707.6 350.2 L1710.4 351.1 L1713.3 352.0 L1716.1 352.9 L1719.0 353.9 L1721.8 354.8 L1724.7 355.8 L1727.5 356.7 L1730.3 357.7 L1733.2 358.6 L1736.0 359.6 L1738.9 360.6 L1741.7 361.5 L1744.5 362.5 L1747.3 363.5 L1750.2 364.5 L1753.0 365.6 L1755.8 366.6 L1758.6 367.6 L1761.4 368.6 L1764.3 369.7 L1767.1 370.7 L1769.9 371.8 L1772.7 372.9 L1775.5 374.0 L1778.3 375.1 L1781.0 376.2 L1783.8 377.3 L1786.6 378.4 L1789.4 379.6 L1792.2 380.7 L1794.9 381.9 L1797.7 383.1 L1800.4 384.3 L1803.2 385.5 L1805.9 386.7 L1808.7 387.9 L1811.4 389.2 L1814.1 390.4 L1816.8 391.7 L1819.5 393.0 L1822.3 394.3 L1824.9 395.6 L1827.6 397.0 L1830.3 398.3 L1833.0 399.7 L1835.6 401.1 L1838.2 402.6 L1840.9 404.0 L1843.5 405.5 L1846.0 407.0 L1848.6 408.5 L1851.2 410.0 L1853.7 411.6 L1856.2 413.2 L1858.7 414.8 L1861.2 416.5 L1863.6 418.2 L1866.1 419.9 L1868.5 421.6 L1870.8 423.4 L1873.2 425.2 L1875.5 427.0 L1877.8 428.9 L1880.1 430.8 L1882.3 432.8 L1884.6 434.8 L1886.7 436.8 L1888.9 438.9 L1891.0 441.0 L1893.1 443.1 L1895.2 445.3 L1897.2 447.5 L1899.2 449.8 L1901.1 452.1 L1903.1 454.4 L1905.0 456.7 L1906.9 459.1 L1908.7 461.5 L1910.6 463.9 L1912.4 466.4 L1914.2 468.8 L1915.9 471.3 L1917.7 473.8 L1919.5 476.2 L1921.2 478.7 L1922.9 481.2 L1924.6 483.7 L1926.3 486.2 L1928.0 488.7 L1929.7 491.2 L1931.4 493.7 L1933.1 496.2 L1934.7 498.7 L1936.4 501.3 L1938.0 503.8 L1939.7 506.3 L1941.3 508.8 L1942.9 511.3 L1944.5 513.9 L1946.2 516.4 L1947.8 518.9 L1949.4 521.4 L1951.0 523.9 L1952.6 526.5 L1954.2 529.0 L1955.8 531.5 L1957.4 534.0 L1959.0 536.6 L1960.6 539.1 L1962.2 541.6 L1963.8 544.1 L1965.4 546.6 L1967.0 549.1 L1968.6 551.6 L1970.2 554.2 L1971.8 556.7 L1973.5 559.2 L1975.1 561.7 L1976.7 564.2 L1978.4 566.6 L1980.0 569.1 L1981.7 571.6 L1983.3 574.1 L1985.0 576.6 L1986.7 579.0 L1988.4 581.5 L1990.1 584.0 L1991.8 586.4 L1993.5 588.9 L1995.2 591.3 L1996.9 593.8 L1998.7 596.2 L2000.4 598.6 L2002.2 601.1 L2003.9 603.5 L2005.7 605.9 L2007.4 608.3 L2009.2 610.7 L2011.0 613.1 L2012.7 615.5 L2014.5 617.9 L2016.3 620.3 L2018.1 622.7 L2019.9 625.1 L2021.7 627.5 L2023.5 629.9 L2025.3 632.2 L2027.1 634.6 L2028.9 636.9 L2030.7 639.3 L2032.5 641.6 L2034.4 644.0 L2036.2 646.3 L2038.1 648.6 L2039.9 650.9 L2041.8 653.2 L2043.7 655.5 L2045.6 657.8 L2047.6 660.0 L2049.5 662.3 L2051.5 664.5 L2053.4 666.7 L2055.4 668.9 L2057.5 671.1 L2059.5 673.3 L2061.5 675.5 L2063.6 677.7 L2065.7 679.8 L2067.8 682.0 L2069.9 684.1 L2072.0 686.3 L2074.1 688.4 L2076.2 690.5 L2078.3 692.6 L2080.4 694.8 L2082.6 696.9 L2084.7 699.0 L2086.8 701.1 L2089.0 703.2 L2091.1 705.3 L2093.2 707.5 L2095.4 709.6 L2097.5 711.7 L2099.6 713.8 L2101.7 716.0 L2103.8 718.1 L2105.9 720.2 L2108.0 722.4 L2110.1 724.6 L2112.2 726.7 L2114.2 728.9 L2116.3 731.1 L2118.3 733.3 L2120.3 735.5 L2122.3 737.7 L2124.3 740.0 L2126.3 742.2 L2128.2 744.5 L2130.2 746.7 L2132.1 749.0 L2133.9 751.4 L2135.8 753.7 L2137.7 756.0 L2139.5 758.4 L2141.3 760.8 L2143.1 763.2 L2144.8 765.6 L2146.5 768.0 L2148.3 770.4 L2150.0 772.9 L2151.6 775.3 L2153.3 777.8 L2154.9 780.3 L2156.5 782.8 L2158.1 785.4 L2159.7 787.9 L2161.2 790.5 L2162.7 793.0 L2164.2 795.6 L2165.7 798.2 L2167.2 800.8 L2168.6 803.5 L2170.0 806.1 L2171.4 808.8 L2172.8 811.4 L2174.1 814.1 L2175.5 816.8 L2176.8 819.5 L2178.2 822.2 L2179.5 824.9 L2180.8 827.5 L2182.2 830.2 L2183.5 832.9 L2184.8 835.6 L2186.1 838.3 L2187.5 841.0 L2188.8 843.7 L2190.1 846.4 L2191.4 849.1 L2192.8 851.8 L2194.1 854.5 L2195.5 857.2 L2196.8 859.9 L2198.1 862.5 L2199.5 865.2 L2200.9 867.9 L2202.2 870.6 L2203.6 873.2 L2205.0 875.9 L2206.4 878.5 L2207.8 881.2 L2209.2 883.8 L2210.6 886.5 L2212.1 889.1 L2213.5 891.7 L2215.0 894.3 L2216.4 896.9 L2217.9 899.5 L2219.4 902.1 L2220.9 904.7 L2222.5 907.3 L2224.0 909.8 L2225.6 912.4 L2227.1 914.9 L2228.7 917.5 L2230.4 920.0 L2232.0 922.5 L2233.6 925.0 L2235.3 927.5 L2237.0 930.0 L2238.7 932.4 L2240.5 934.9 L2242.2 937.3 L2244.0 939.7 L2245.8 942.1 L2247.7 944.5" stroke="#a81c24" stroke-width="1.15" fill="none" stroke-linejoin="round"/>
<path d="M674.7 296.4V1618.5 M637.5 1396L674.4 1618.3 M713.8 394.8L1003.5 1527.1 M877.1 1314.3L996.7 1528" stroke="#000" stroke-width="2.1" fill="none"/>
<text x="981" y="1593.4" font-family="Liberation Sans, sans-serif" font-size="62.6">B20LTG Motor Serie, Getriebe Serie</text>
<text x="614" y="1708.2" font-family="Liberation Sans, sans-serif" font-size="70.88">B20LTG Motor Serie, Getriebe Optimiert</text>
<rect x="1744" y="1731.5" width="405.5" height="351" fill="#fff"/>
<path d="M1744 1731.6H2149.4V2082.3H1744" stroke="#999" stroke-width="1.1" fill="none"/>
<path d="M1743.5 1731.6V2082.3" stroke="#e4e4e4" stroke-width="1" fill="none"/>
<path d="M1746.7 2079.5V1734.5H2146.5V1788.5 M1747 1788.5H2146.5" stroke="#777" stroke-width="1.1" fill="none"/>
<path d="M1747 1788.5H1757.5 M2136 1788.5H2146.5" stroke="#000" stroke-width="1.3" fill="none"/>
<text x="1759" y="1777.6" font-family="Liberation Sans, sans-serif" font-size="41.8">KURVENLEGENDE</text>
<clipPath id="lc"><rect x="1748" y="1789" width="398.5" height="292"/></clipPath>
<g clip-path="url(#lc)">
<rect x="1748.2" y="1790.1" width="398.2" height="51.4" fill="#3593f7"/>
<text x="1748" y="1831.8" font-family="Liberation Sans, sans-serif" font-size="42" fill="#fff" letter-spacing="0.42">riginal-sport_trans.p0</text>
<line x1="1750.3" y1="1891.3" x2="2146.5" y2="1891.3" stroke="#20e020" stroke-width="2.6" stroke-dasharray="23.4 1.2"/>
<text x="1750" y="1936.9" font-family="Liberation Sans, sans-serif" font-size="42" fill="#14be14">P_loss_[kW] #1</text>
<text x="1749.5" y="1989.5" font-family="Liberation Sans, sans-serif" font-size="42" fill="#c80000">M_korr_[Nm] #1</text>
<text x="1750" y="2041.6" font-family="Liberation Sans, sans-serif" font-size="42" fill="#18c6f0" letter-spacing="-0.66">P_Mot_PS_[PS] #1</text>
<rect x="1750" y="2052.8" width="396.5" height="26.6" fill="#0000fa"/>
<clipPath id="lc2"><rect x="1750" y="2052.8" width="396.5" height="26.6"/></clipPath>
<text x="1748" y="2094" font-family="Liberation Sans, sans-serif" font-size="42" fill="#fff" clip-path="url(#lc2)">4221\original-sport.p0</text>
</g>
</svg>
</body></html>
